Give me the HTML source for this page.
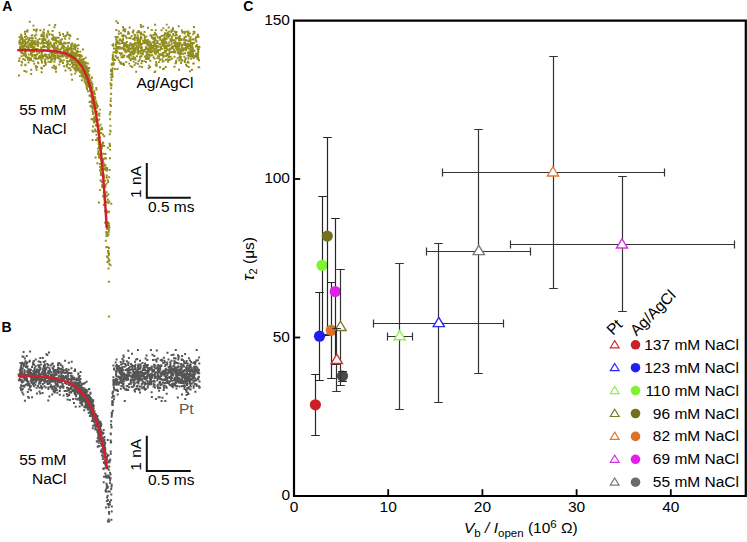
<!DOCTYPE html>
<html><head><meta charset="utf-8"><style>
html,body{margin:0;padding:0;background:#fff;width:747px;height:542px;overflow:hidden}
svg{display:block}
text{font-family:"Liberation Sans",sans-serif}
</style></head><body>
<svg width="747" height="542" viewBox="0 0 747 542">

<text x="2.3" y="10.9" font-size="14" font-weight="bold">A</text>
<text x="1.5" y="332.2" font-size="14" font-weight="bold">B</text>
<text x="243.3" y="11.2" font-size="14" font-weight="bold">C</text>
<path d="M19.1 60.9h0M19.5 37h0M19 75.5h0M19.3 42.5h0M19.8 40.7h0M20 47.1h0M19.6 43.7h0M19.5 41.5h0M19.9 47.9h0M20.4 50.7h0M19.6 58.4h0M20.6 39.1h0M20.3 51.2h0M20.6 46.8h0M21 34.8h0M20.8 38.2h0M21.3 42.7h0M21.7 50h0M21.3 49.8h0M21.4 39.2h0M21.7 43.6h0M21.5 56.3h0M21.5 52.9h0M21.5 65.2h0M21.7 36.2h0M21.7 61.6h0M21.4 45.3h0M21.8 49.1h0M21.5 48.7h0M21.7 36.1h0M22.1 62.6h0M22.6 38.2h0M22.6 40.2h0M22.2 51.6h0M23.1 53.4h0M22.6 42h0M22.7 47.3h0M23.3 48.4h0M23.1 48h0M23.3 45.9h0M23.1 40.3h0M23.5 59.1h0M23.7 41.7h0M23.9 55.2h0M23.4 43.6h0M23.7 55.4h0M23.3 59h0M24.5 48.9h0M24.4 70.9h0M24.6 46.3h0M24.9 60.1h0M24.9 40.2h0M24.6 55h0M25.1 44.4h0M25 37h0M25.3 53.6h0M25.1 53h0M25.3 64.7h0M24.8 44.6h0M24.9 31.8h0M25.5 53h0M25 51h0M25.2 41.5h0M25 48.6h0M25.4 46.2h0M25.4 65.3h0M25.1 34h0M25.9 55.1h0M26.3 39.1h0M25.8 42.4h0M25.8 56.4h0M26.3 36.1h0M26.4 71.7h0M26.2 50.8h0M27 46.5h0M26.7 31.5h0M26.9 43.4h0M27 50h0M27.5 30.3h0M26.6 57.4h0M27.1 47.5h0M27.3 57.3h0M27.4 31.4h0M28 42.3h0M27.7 37.7h0M28 59.4h0M28.3 42.2h0M28.4 40.4h0M28.3 49.2h0M28.5 62.6h0M28.5 45.2h0M28.2 46.7h0M29.1 40.1h0M28.7 54.4h0M28.6 47.9h0M29.2 39.7h0M29.2 39.1h0M29.2 57.8h0M29.1 49.8h0M29.5 45h0M29.2 60.2h0M29.5 44.9h0M29.7 44h0M30 38.1h0M29.8 43.5h0M29.8 58.7h0M30.1 45.3h0M30 50.2h0M29.8 21.7h0M30.4 50.8h0M30.3 45.1h0M30.2 43.7h0M30.8 59.3h0M30.7 46.4h0M31 52.8h0M31.4 42.6h0M31.4 46.1h0M30.9 58.4h0M31.2 69.8h0M30.8 47.1h0M31.1 54.8h0M31.1 38.1h0M31.6 35.6h0M31.2 74h0M31.3 40.8h0M31.7 43.3h0M31.6 54.1h0M31.3 54.6h0M32.1 44.5h0M31.4 60.3h0M32.2 50.2h0M32.1 47h0M32.2 56.3h0M32.5 47.6h0M32.3 46.2h0M32.3 35.3h0M32.2 54.8h0M32.5 40.2h0M32.6 38h0M32.8 52.1h0M33.1 41.9h0M32.7 49.1h0M32.9 50.2h0M33.9 41.8h0M33.5 44h0M33.4 25.6h0M33.5 61.1h0M33.7 46.7h0M33.4 43.6h0M34.4 46.7h0M34.4 55h0M34.4 57.8h0M34.3 46.9h0M34.1 51.4h0M33.8 29.8h0M34.1 49.3h0M34.6 54.9h0M34.3 63.7h0M34.7 58h0M34.5 57.1h0M34.7 41.3h0M34.9 35.7h0M34.4 47.6h0M35.3 41.7h0M35.4 43.4h0M35.7 48.9h0M35.6 44.5h0M35.6 58.8h0M35.8 49.1h0M35.9 57.2h0M35.7 49.8h0M35.8 30.1h0M35.6 38.2h0M36.1 67.6h0M36.2 34.6h0M35.8 65.9h0M36.3 49.3h0M36.9 29.5h0M36.3 31.6h0M36.5 69.8h0M36.5 58.6h0M36.4 55.1h0M37 67h0M36.8 51.8h0M37.3 44.3h0M37.4 58.8h0M37.4 54.1h0M37.6 40.3h0M37.6 48.9h0M37.6 41.9h0M37.8 41.5h0M37.6 43.4h0M37.8 46h0M37.9 44.8h0M38.1 62.5h0M38.3 63.2h0M38.9 56.7h0M38.9 51h0M38.5 42.5h0M39.6 57.8h0M39.4 57.6h0M39.3 57.2h0M39.2 58.3h0M39.4 52h0M39.2 52.7h0M39.6 38.9h0M40.2 50.8h0M40.3 30.2h0M40 56h0M40.5 57.8h0M40.5 43.4h0M40.7 56.3h0M41.2 47.4h0M41.3 49.2h0M41.3 36.1h0M40.9 51.4h0M41.4 35.3h0M41.3 67.8h0M41.2 56.1h0M41.7 72.2h0M41.6 53.9h0M41.3 59.8h0M41.9 61.6h0M41.6 50.9h0M42 62.6h0M42.1 52.2h0M42.1 55.5h0M42 68.5h0M42.3 56.9h0M41.9 34.4h0M42.2 41.5h0M42.1 56.1h0M42.1 55.8h0M42.2 43.1h0M42.4 39.1h0M42.2 39.9h0M42.9 55.8h0M42.9 58.2h0M43.1 36h0M43 47h0M43.2 32.2h0M43.4 49.6h0M43.1 39.6h0M43 41.3h0M43.9 65.9h0M43.2 39.1h0M43.8 36.9h0M43.5 37.5h0M43.9 50.1h0M43.9 32.9h0M43.3 45.1h0M43.7 36.8h0M44.3 38.8h0M44.2 46h0M43.8 56h0M43.9 35.1h0M44.2 47h0M43.8 51h0M43.9 29.7h0M43.9 43.1h0M44.4 39h0M44.4 43.1h0M45 39.9h0M44.9 42.9h0M45.1 62.4h0M44.7 50h0M44.8 54.4h0M45 60.5h0M45.6 56.1h0M45.5 39.4h0M45.7 64.8h0M45.5 46.6h0M45.6 59.1h0M46.4 56.8h0M46.5 42h0M46.5 43.2h0M45.7 63h0M46.6 36.1h0M46.5 54.6h0M46.8 50.5h0M47.1 43.4h0M46.9 41.7h0M46.9 34.4h0M46.9 57h0M47.3 37.2h0M47.2 47.2h0M47.8 58.6h0M48.1 31.3h0M48.3 61.6h0M47.9 45.5h0M48 57.9h0M48.2 46.2h0M48.2 41.8h0M48.4 49.3h0M47.9 48.4h0M48.6 43.5h0M48.2 32.3h0M48.8 40.5h0M48.9 54.7h0M49.1 57.1h0M48.9 50.6h0M49.1 48.7h0M49.2 44.7h0M49.6 34.1h0M49.4 25.1h0M49.2 34.6h0M50.2 62.1h0M49.8 47.3h0M50.1 56.5h0M50.1 58.2h0M50.7 50.8h0M50.3 52.4h0M50.7 42.5h0M50.6 43.1h0M51.1 58.1h0M50.6 44.6h0M51.6 54.5h0M51.1 60.9h0M51.8 52.9h0M51.2 57.8h0M51.5 61.6h0M51.5 60h0M52.4 45.4h0M51.9 38.8h0M52.2 55.9h0M51.8 34.6h0M52.2 52.2h0M52.4 67.6h0M52.5 50.8h0M52.6 59.3h0M52.6 54.1h0M53.1 38.5h0M52.8 51.8h0M52 46.3h0M52.7 35.3h0M53 47.3h0M52.6 30.9h0M52.9 38.6h0M52.9 47.2h0M52.6 67.4h0M53.3 52h0M53 39.7h0M53.4 39.6h0M53.4 55.9h0M53.7 57.9h0M53.7 37.2h0M53.5 37.3h0M54.1 45.3h0M54.4 27.3h0M54 49.9h0M53.9 65.8h0M54 48h0M54.1 55.5h0M54.1 43.8h0M54.7 48.4h0M54.6 48.5h0M54.3 43.1h0M54.3 51.9h0M53.8 50.1h0M54.2 50.3h0M54.5 37.6h0M54.6 68.1h0M55 56.9h0M54.8 53.6h0M54.4 61.7h0M54.6 40.2h0M54.8 46.4h0M55 53.5h0M56.1 68.1h0M55 58.7h0M55.2 24.9h0M55.8 66.8h0M54.6 47.6h0M55.5 51.1h0M55.6 50.6h0M55.6 56h0M55.1 59.6h0M55.8 37.6h0M55.6 50.8h0M55.4 50.1h0M55.5 69h0M55.6 38.4h0M56.2 43.5h0M55.9 48h0M56.1 40.1h0M56 71.8h0M55.7 57.7h0M56.4 41.6h0M56.8 49.2h0M56.6 52.9h0M57.2 47.8h0M57.2 50.6h0M57.7 37.7h0M57.5 54.1h0M57.9 57.8h0M57.7 41.1h0M58.1 41.5h0M57.7 46h0M57.6 48.4h0M58.4 56.4h0M57.9 55.5h0M57.8 37.8h0M58.7 58.6h0M58.4 56.7h0M58.7 52.1h0M59.4 44.1h0M58.4 49.5h0M58.7 37.6h0M59.7 53h0M59.2 42.6h0M59.1 56.4h0M59.3 64.4h0M59.8 61.4h0M59.8 53.4h0M59.8 49.8h0M60.1 35h0M59.6 32.7h0M60 56.3h0M60 61.8h0M60.6 41.3h0M60.6 59.3h0M60.3 40.3h0M60.9 49.2h0M61.3 56.4h0M61 42.7h0M61 60.9h0M61.8 61.3h0M61.6 55.1h0M61.2 44.2h0M61.7 53.2h0M61.6 47.4h0M62.6 44.8h0M62 54h0M62.8 56.4h0M62.1 39.3h0M63.1 62.6h0M62.7 45.7h0M63.6 46.1h0M62.9 62.9h0M63.9 50.4h0M63.3 54.1h0M63.1 34h0M63.2 54.6h0M63.2 48.1h0M63.4 43.5h0M64.3 47.8h0M63.8 36.1h0M63.7 50.2h0M63.8 60.1h0M63.8 51.5h0M64.1 66.2h0M64 51.2h0M64.3 42.7h0M64.8 42.6h0M64.6 36.6h0M64.7 50.8h0M64.4 46.6h0M64.4 50.9h0M65.8 50.9h0M65.2 38.8h0M65.2 52.5h0M65.3 52.8h0M65.6 55.7h0M64.9 55.4h0M65.2 50.8h0M66 52.8h0M65.5 70.4h0M65.7 50h0M65.6 53.2h0M65.4 43.5h0M66.4 56.7h0M65.8 52.1h0M66.3 57.5h0M65.8 53h0M67.1 55.1h0M66 35.7h0M66.9 66.4h0M66.7 47.9h0M67.2 58.1h0M66.8 49.5h0M67.1 55.5h0M66.7 54.2h0M66.7 65h0M67.9 51.2h0M67.5 32.6h0M67.5 43.2h0M66.7 66.5h0M67.2 60.9h0M67.4 34h0M67.3 62.2h0M68.2 49h0M68.4 34.8h0M67.7 49.7h0M67.6 52h0M68.1 48.5h0M68 46.1h0M67.8 64h0M68.5 56.2h0M68.7 56.6h0M68.7 68.3h0M69 49.8h0M68.2 52.6h0M69.5 56.4h0M69 42.8h0M68.9 56.8h0M68.9 48.6h0M69.3 38.5h0M69.3 61.3h0M70 56.6h0M69.8 56.4h0M70.2 54.3h0M69.7 68.1h0M69.8 35.2h0M70.3 36h0M69.7 47.9h0M70.1 60.3h0M70.6 70.2h0M70.4 52.9h0M70.9 57.6h0M70.1 64.6h0M71.3 46.3h0M70.6 59.4h0M71.1 44.8h0M71.5 47.5h0M70.2 56.4h0M71.1 52.4h0M71.6 51.1h0M70.9 54.2h0M70.9 49.5h0M72 44.4h0M71.7 56.4h0M71.6 52.4h0M72.2 66.7h0M71.3 60.7h0M72.2 53.3h0M72 58.7h0M71.5 44.3h0M71.9 63.2h0M71.5 74.5h0M72.2 55h0M72.1 60.2h0M72.1 79.7h0M72.7 51.3h0M71.9 61.7h0M72.5 59.8h0M72.4 43.5h0M72.8 55.2h0M72.6 56.6h0M71.8 48.8h0M73 53h0M73.3 62.6h0M73.8 49.1h0M72.9 65h0M73.4 64.7h0M74.1 58.8h0M73.4 56.3h0M74.4 60.4h0M74.1 65.3h0M74.4 61.4h0M74 52.8h0M74.5 45.4h0M73.8 67.8h0M75.4 68.2h0M74.9 57.1h0M75.2 70.1h0M74.3 54.5h0M75.1 44.4h0M75.1 73.6h0M74.7 55.2h0M73.7 46.1h0M76.5 58.6h0M75.4 63.2h0M74.2 47.7h0M74.7 68.7h0M75.7 57h0M75.1 60.6h0M75 58.3h0M75.1 48.9h0M76.1 66.1h0M76.3 71.5h0M76.3 50.8h0M77.3 69.9h0M76.6 60.4h0M75.5 58.3h0M76.4 65.9h0M75.6 47.2h0M76.1 64.9h0M76.4 67.5h0M76.6 54.8h0M76.9 61.9h0M76.7 52.6h0M75.8 53.5h0M75.8 64.7h0M76.7 45.8h0M76.8 62h0M77.2 51h0M77.3 52h0M77.8 48.6h0M77.1 65.8h0M76.6 55.2h0M77.6 62.6h0M77.5 55.6h0M77.6 38.9h0M77.6 67.1h0M77.6 54.9h0M78.3 55.4h0M78.4 56h0M78.3 54.8h0M77.7 69.1h0M79.3 59h0M78.1 63.7h0M78.5 45.3h0M79 62.3h0M79.5 64.9h0M79.9 57h0M77.6 67.8h0M78.9 62.4h0M78.1 52h0M79.8 62.8h0M79.5 55.9h0M80.6 55h0M79 63h0M79.5 62.1h0M80.3 70.5h0M79.1 70.4h0M79 60.7h0M78.3 68.7h0M78.7 54.6h0M79.9 76.1h0M79.6 70.8h0M80 72h0M79.4 65.7h0M79.8 61.7h0M81.2 61.7h0M79.9 68.2h0M80.2 60.8h0M80.3 59.5h0M81.9 56.3h0M80.2 63.7h0M80.5 59.9h0M82 76.5h0M81.5 56.5h0M79.7 68.2h0M83 66.4h0M80.2 62.4h0M81.8 60.6h0M80.5 62.1h0M80.4 60.5h0M80.3 51.6h0M80.7 61.3h0M82.6 70.5h0M81.3 73.7h0M82.6 59.2h0M80.6 54.9h0M83.5 59.1h0M81.2 65.5h0M81.8 72.4h0M81.9 80.3h0M82 69.9h0M82.3 72h0M82.3 63.4h0M82.1 75.7h0M83 49.5h0M81.5 59.9h0M82.1 72.4h0M82.5 67.8h0M84 65.8h0M81.6 73.8h0M82.2 61.5h0M83.2 72.9h0M82.2 71.4h0M82 65h0M83 64.1h0M83.6 62h0M83.2 74.1h0M83.5 74.5h0M83.2 63.3h0M82.6 72.8h0M82.6 76.2h0M83.1 67.2h0M83.5 68.4h0M83.8 72h0M83.2 59.7h0M84.2 64.1h0M83.9 58.9h0M85.2 72.5h0M84.3 77.8h0M83.9 63.1h0M84.4 71.5h0M84.7 68.9h0M84 71.8h0M85 63.6h0M86.8 68.7h0M84.9 65.5h0M86.5 63.2h0M85.3 76.2h0M84.7 71.3h0M85.8 66.2h0M82.8 72.7h0M86.4 78.3h0M85.4 69.2h0M84.9 66h0M83.4 77.8h0M84.1 73.9h0M86.7 68.6h0M87.9 63.5h0M85.8 76.2h0M86.3 66h0M86.7 77.2h0M84.5 75.5h0M85.3 66.7h0M88 80.2h0M85.7 82.2h0M85 77.2h0M86.4 75.7h0M85.3 82.7h0M86.9 74.6h0M86.7 69h0M84.7 79.6h0M87.9 91.2h0M88.4 76.6h0M84.7 76.1h0M86.2 79.1h0M88.3 74.3h0M85.7 57.6h0M87.1 81.1h0M87.8 72.5h0M85 71h0M86.1 76.7h0M84.6 81.3h0M86.8 67.3h0M87.6 74.7h0M85.4 72.8h0M86.7 87.2h0M86 83.7h0M88.4 75.7h0M87.3 70.8h0M86.7 81.9h0M89.2 67.9h0M90 79.8h0M86.6 70.7h0M89.1 76.7h0M85.4 68h0M87.9 79.4h0M88.7 71.1h0M88.1 75.9h0M88.7 75h0M85 77.8h0M86.4 68.1h0M87.5 82.6h0M87.3 78.1h0M84.9 79.6h0M87.2 75.5h0M87.1 76.9h0M86.5 83.6h0M85.3 62.2h0M88.7 68.4h0M88.4 68h0M85.8 73.9h0M86.6 72.2h0M86.6 83h0M87.6 73.6h0M86.5 83.2h0M87 74.6h0M87.5 80.4h0M87.4 79.3h0M88.8 75h0M88.4 81.9h0M86.5 85.7h0M89.3 79.3h0M87.7 78.2h0M87.6 70.5h0M87.8 81.8h0M89.5 75.1h0M87.1 77.8h0M88 80.7h0M88.9 78h0M89.1 80.1h0M88.8 83.6h0M88.3 78.5h0M90.1 82.9h0M88.8 79.2h0M88.5 80.9h0M88.8 86.8h0M88.9 85.1h0M90 89.8h0M90 83.2h0M88.6 82.6h0M89.8 82.4h0M87 89h0M88.4 78.7h0M88.7 85.7h0M87.6 84.8h0M91.8 77.5h0M91.7 77.9h0M88.9 83.1h0M89.8 84h0M90.3 88.5h0M90.3 85.6h0M90.3 80h0M88.6 81.2h0M87.1 81.2h0M88.6 81.5h0M91.9 84.9h0M91.2 89h0M89.6 83.9h0M91.6 83.6h0M91.8 87.1h0M88.6 80.7h0M92.6 86.9h0M90.5 88.6h0M91.4 81.7h0M90 87.8h0M92.4 88.9h0M89.8 82.6h0M92 88.8h0M89.1 86h0M91.1 83.9h0M91.4 83.9h0M92.9 96.1h0M92.4 84.3h0M91.2 92h0M91.5 97.1h0M90.7 87.6h0M90 95.2h0M92.6 92.2h0M92.8 92.8h0M91.4 91.9h0M90.5 90.9h0M90.1 90.7h0M90.7 86.1h0M90.4 91.3h0M96.4 89.6h0M89.5 95.6h0M93.6 93.3h0M92.1 92.8h0M93.3 91.7h0M91.8 89.4h0M94.2 91.9h0M92.5 95.6h0M93.2 97.4h0M92.6 92h0M94.7 94h0M96.3 88h0M92.9 98.4h0M94.1 91.3h0M92.3 99h0M92.1 96.8h0M92.6 101.1h0M91.3 101.9h0M92.1 89.1h0M93.3 103.9h0M92.4 91.6h0M94.9 96.8h0M93.3 100.5h0M93.4 99h0M92 103.3h0M91.7 97h0M91.8 101.9h0M92.9 100.1h0M91.9 100.8h0M92.7 102.4h0M89.6 102h0M94 101.8h0M95.3 98.4h0M90.4 106.1h0M95.2 104.7h0M94 101.5h0M92.6 102.6h0M94.7 99.3h0M91.8 99.8h0M91.5 101.3h0M93.6 104.8h0M94.8 109.1h0M92.9 100.2h0M96 102.6h0M90.4 96.3h0M93.3 108.1h0M93.6 101h0M97.1 105.2h0M97.2 105.8h0M96.2 104.7h0M94.8 106.7h0M96.8 103.9h0M91.3 105.8h0M93.9 105.4h0M96.1 101.5h0M92.6 103.1h0M93.9 102.7h0M92.7 101.1h0M96.8 108h0M92.1 106.4h0M97.1 107.3h0M92.5 106.4h0M97 111.7h0M96.1 111.3h0M97.9 106.1h0M95.7 119.8h0M91.6 107.5h0M92.8 108.6h0M94.4 116.7h0M92.5 110.7h0M96.9 114.4h0M97 114.6h0M99.9 109.6h0M95.3 118.5h0M92.4 118.9h0M99.4 113.5h0M95.5 112.3h0M96 124.9h0M98.1 114.3h0M93 112.5h0M93.1 113.9h0M97.9 114.1h0M93.6 118.8h0M91.5 119.2h0M99.2 119.5h0M95.6 118.8h0M95.1 121.4h0M99.3 115.8h0M94.2 121.8h0M94 118.7h0M93.9 120.6h0M94.2 122.6h0M96.3 119.3h0M97.9 120.2h0M95.8 125.5h0M93.8 121.4h0M93.2 119.6h0M97.1 126h0M100.7 124.6h0M96.9 122h0M95.3 131.2h0M97.9 124.5h0M93 126.4h0M96 131.2h0M98 125.4h0M101.4 129.3h0M99.2 126.3h0M101.2 133h0M100.2 129.5h0M93.1 131.7h0M95.1 129.4h0M102.2 129.3h0M101.7 127.7h0M99.6 133.4h0M96.5 134.8h0M99.2 131.3h0M92.6 140h0M100 133.1h0M103 134.4h0M98.2 132.1h0M92.4 130.6h0M98.1 132.1h0M98 137.9h0M98.8 142.8h0M101 133h0M97.4 138.2h0M98.4 138.8h0M99.9 137.5h0M104.3 136.2h0M99.7 141.1h0M102.9 142.4h0M100.4 147.3h0M96 139.9h0M98.2 140.3h0M98.7 144h0M101.1 145.6h0M99.5 138.3h0M98.6 141h0M103.3 146h0M99.7 144.8h0M107.8 147.8h0M103.2 143h0M99.6 146.9h0M102.3 146.1h0M102.6 144.8h0M98.1 148.6h0M101 144.4h0M100.2 149.9h0M98.9 147.2h0M101.5 148.3h0M99.6 141.5h0M101.9 147.6h0M101.8 147.5h0M101.3 148.8h0M100.8 147.8h0M104.2 146h0M100.4 148.4h0M100.9 149.3h0M99 147.1h0M98.1 154h0M99.2 154.7h0M101.2 153h0M99.3 145.2h0M98.8 153.8h0M95.6 157.4h0M100.9 145.4h0M98.3 151.2h0M106 158.5h0M103.5 153.8h0M105.5 153.9h0M101.4 154.8h0M98.3 153.3h0M104.8 158.3h0M103.1 162h0M103.9 158.7h0M99 156.6h0M99.5 157.9h0M99.2 156.9h0M102.8 160.8h0M97.4 163.3h0M101 159.1h0M102.9 162.6h0M101.2 159.1h0M103.1 161.3h0M103 160.4h0M99.9 156.5h0M101.3 161.3h0M102.8 159.4h0M99.1 157h0M101.1 168.9h0M102.1 164.2h0M104.5 169.4h0M106.8 168.1h0M100 166.8h0M101 168.8h0M101.8 173.9h0M105.5 167.5h0M106.4 169.3h0M100.1 164h0M104.3 168.6h0M105.4 165.3h0M103.5 166.1h0M103.6 163.2h0M100.7 170.8h0M102.9 166h0M106.2 169.9h0M107.3 168.1h0M107 169.4h0M103 169h0M101.8 168.4h0M102.4 174.3h0M106.9 170.6h0M104.4 164.7h0M106.3 167.9h0M100.1 170h0M103.6 174.3h0M106.6 177.7h0M103.8 175.7h0M106.7 175.8h0M100.8 174.7h0M102.3 174.6h0M106.8 175.4h0M100.7 172.3h0M100.9 173.4h0M109.1 177.2h0M100.8 180.1h0M105 180.6h0M100.5 180.8h0M101.6 175.3h0M103.9 177.5h0M102.2 182.3h0M102 182h0M105.5 185.1h0M108.2 181.9h0M106.6 183.6h0M102.1 185.3h0M102.3 187.2h0M102.7 185.4h0M107.7 180.2h0M106.6 192.1h0M106.4 192.3h0M103 185.5h0M105.4 186.8h0M108.4 194.4h0M103.4 196.4h0M103.7 192.2h0M100.1 190.1h0M105.3 194.1h0M106.2 196.5h0M104.2 195h0M108.2 194.6h0M103.1 196.3h0M105.4 194.4h0M106.6 196h0M105 197.8h0M108.4 202.9h0M106.7 201.8h0M104.5 199.3h0M105.1 197h0M98.9 202.5h0M105.5 202.7h0M107.8 199.5h0M105 196.9h0M105.3 196.6h0M111.3 203.8h0M103.8 205h0M105.3 205.2h0M104.6 203.4h0M104.8 202.8h0M105 211.2h0M109.2 211.7h0M107.1 211.1h0M106.2 210.1h0M107.6 212.5h0M106.3 217.9h0M106.4 222h0M107.3 223.9h0M108.2 222.4h0M106.5 222.6h0M105.1 222.7h0M108.8 226.6h0M108.6 231.9h0M109 225.7h0M107.2 225.5h0M107.4 229.1h0M108.3 228.7h0M106.6 225.9h0M107.2 229.1h0M106.6 232.8h0M106.3 236.1h0M105.8 240.8h0M106.2 231.9h0M107.8 235.8h0M106.6 234.1h0M106.3 247.3h0M107.6 247h0M109 248h0M108 251h0M108.4 250.8h0M109.1 253.5h0M106.9 256.4h0M107.6 257.2h0M109.4 260.2h0M108.7 261.2h0M107.5 262h0M108.8 255.2h0M110.5 265.2h0M108.5 234.5h0M109 230.1h0M109.5 227.6h0M108.9 223.6h0M109.3 201.4h0M109.6 169.9h0M110 158.2h0M110.1 149.6h0M110.1 146.1h0M109.8 144.3h0M109.9 145.6h0M109.6 143.7h0M109.7 134.2h0M110.6 131.5h0M110.2 130.6h0M110.4 125.8h0M110.1 119.2h0M110.4 111.9h0M109.8 114.2h0M111 106h0M110.8 98.6h0M110.3 104.7h0M110.7 100.9h0M111.1 93.7h0M111.1 94.1h0M110.9 85.4h0M110.6 83.5h0M111.2 88.2h0M111.1 77.6h0M111.6 84.8h0M110.9 74.4h0M111.1 71.1h0M111.6 80h0M111.7 70.6h0M112.3 74h0M112.1 72.3h0M112.4 76h0M112.2 65.1h0M111 69.9h0M111.5 64.5h0M112.3 63.2h0M112.2 77h0M112.2 71.6h0M112.5 76.7h0M112.5 45h0M113.4 60.6h0M112.7 59.3h0M112.6 58.5h0M112.3 69.9h0M112.6 58.7h0M112.5 68.1h0M113.5 59.6h0M112.9 56.7h0M113.2 45.8h0M113.3 60.5h0M113.4 52.5h0M112.8 55h0M114 48.4h0M113.1 58.1h0M113.1 57.2h0M113.7 58.6h0M113.3 44.3h0M113.7 64.6h0M113.9 63.1h0M114.9 69h0M115.2 60h0M114.9 48.6h0M115.1 51.9h0M116 44.8h0M115.6 36.9h0M116 48.5h0M115.8 45.8h0M115.6 55.7h0M116.3 30h0M116 50.4h0M116.2 39.2h0M116.2 42.5h0M116.4 53.1h0M116.4 21.2h0M116.8 36.9h0M116.7 40.5h0M116.4 57.1h0M117 46.9h0M117.1 43.6h0M117.2 58.1h0M117.2 51.7h0M117.4 51.1h0M117.5 68.9h0M117.8 41.8h0M117.8 37.2h0M117.9 22.9h0M118 57.6h0M117.8 42.3h0M118.2 47.6h0M118.2 47.1h0M118.1 48.2h0M118.8 31.3h0M118.1 48.7h0M118.7 60.1h0M118.9 48.2h0M118.8 47.3h0M119 47h0M118.7 43.5h0M118.8 33.8h0M118.6 47.3h0M119 48.3h0M118.8 42.6h0M119.7 48.5h0M119.7 39.9h0M120 39.3h0M119.9 43.7h0M119.6 52.9h0M119.7 61.9h0M120.3 40.2h0M120.6 47.5h0M120.9 33.3h0M120.8 54.8h0M120.7 54h0M121 62.7h0M120.6 63.6h0M121.5 57.3h0M121.5 48.4h0M121.7 40.8h0M121.5 40.5h0M122.1 41.6h0M122.1 64h0M121.7 57.3h0M121.9 53.3h0M122 42.9h0M122.3 35.9h0M122.7 48h0M122.1 41.7h0M123.1 27h0M123.2 30.6h0M123.4 42.9h0M123.2 55.5h0M122.9 40.5h0M123.8 35.3h0M123.1 38.8h0M123.4 48.3h0M123.3 36.2h0M123.9 49.7h0M123.6 63.5h0M123 35.2h0M123.9 44.5h0M123.5 57.3h0M124.4 42.9h0M124 65h0M123.8 45.9h0M124.4 48.1h0M123.8 28.9h0M124.3 55.5h0M124.5 43.2h0M125 31.3h0M125 49.7h0M125.7 52.2h0M125.3 51.8h0M124.9 49.8h0M125.4 46.1h0M125.3 29.5h0M125.1 45.3h0M125.5 43.3h0M125.9 44.5h0M126.1 46.1h0M125.7 36.3h0M125.8 45.7h0M126.2 62.1h0M126.8 45h0M125.5 51.6h0M127.2 50.2h0M126.9 47.6h0M126.8 41.9h0M127.2 56.8h0M126.6 37.9h0M127.7 46.6h0M127.4 51.3h0M127 46.7h0M127.6 56.3h0M128.2 47.2h0M127.6 51.3h0M128 33.8h0M128.4 45.1h0M128.4 51.3h0M128.4 49.1h0M128.3 31.9h0M129.1 55h0M129.1 47.7h0M129 49.1h0M129.1 56.5h0M129.1 33.5h0M129.2 63.6h0M129.4 58.2h0M129.7 48.9h0M129.1 51.3h0M129.4 49.4h0M129.3 37.9h0M129.7 27.5h0M130.4 45h0M130.3 45.5h0M130.7 53.2h0M130.3 53.8h0M130.3 43.1h0M130.6 60.3h0M130.5 49h0M130.5 52.1h0M130.6 38.2h0M131.5 58.9h0M131 55.6h0M130.7 66h0M130.8 48.6h0M131.3 52.6h0M131.7 44.1h0M132 53h0M131.6 35.9h0M131.9 58.4h0M131.9 47.4h0M132.2 67h0M132 51.8h0M131.9 51.7h0M132.8 54.1h0M132.5 45.2h0M132.4 51.5h0M132.9 46.5h0M132.5 59.1h0M132.9 32.6h0M133 44.1h0M132.8 48.5h0M132.8 32.1h0M132.8 52.5h0M133.1 39h0M133.4 56.5h0M133.4 49.9h0M133.6 61.6h0M133.4 50.5h0M133.6 50.8h0M133.4 30.5h0M134.4 53.6h0M133.7 49h0M134.5 37.9h0M133.8 45.8h0M133.7 50.5h0M133.6 58.8h0M134.6 34.8h0M134.7 43.8h0M134.4 48.8h0M135 57.8h0M134.8 44.6h0M134.7 51.7h0M135 35.5h0M134.7 39.9h0M134.5 65.1h0M134.9 37.7h0M135.2 47.6h0M135.2 48.8h0M135.6 50.2h0M135.2 42.7h0M135.5 50.1h0M135.5 51.6h0M135.7 63.3h0M135.5 59.5h0M136.2 71.7h0M136 37.7h0M136.6 47.5h0M136.5 45.1h0M136.9 56.2h0M137.2 47.8h0M137.4 40.4h0M137.3 46.5h0M137.6 37.1h0M137.6 49.1h0M137.6 35.1h0M137.2 32.5h0M137.7 53h0M137.2 42.9h0M138 51.4h0M137.9 63.7h0M137.7 46.1h0M137.4 39.1h0M138.1 49.4h0M138 38.5h0M138.2 37.4h0M138 42.1h0M138.6 51h0M138.2 47.6h0M138.5 40h0M138.4 53.7h0M137.9 47.7h0M138.1 39.2h0M138.5 30.9h0M139 31.8h0M138.8 44h0M138.6 61.1h0M139.6 45.6h0M139.2 32.4h0M139.3 51.8h0M139.7 66.5h0M139.7 59.6h0M139.5 42.5h0M140 41.7h0M140.4 32.4h0M140.1 56.6h0M140.4 57.6h0M140 40.2h0M140.2 47.6h0M140.3 51.1h0M140.8 53.6h0M140.8 24.9h0M141 32.7h0M141 37h0M140.7 43.6h0M141.1 50.7h0M141.1 26.9h0M140.6 38.4h0M141.6 63.3h0M141.3 46.1h0M141.6 49.5h0M141.5 38.5h0M141.1 44.1h0M141.1 53.2h0M140.9 34.5h0M140.9 47.9h0M141.9 47.6h0M142.1 66.9h0M141.5 55.9h0M142 60.9h0M141.8 43.9h0M141.9 53.2h0M141.8 34.1h0M143 40.8h0M142.6 49.9h0M143.2 26.4h0M142.4 53.2h0M142.7 54.2h0M142.4 50.2h0M142.8 53.7h0M142.9 34.6h0M143.4 52.1h0M143.3 43h0M144.8 36.7h0M144.2 35.3h0M144.2 50.8h0M144.5 32.1h0M144.3 61.1h0M144.6 50.6h0M144.9 39.8h0M144.9 40.1h0M144.8 49.8h0M144.5 40.7h0M144.7 38h0M145 56.5h0M145.1 41.3h0M145.1 43.2h0M145.4 42.3h0M146 62h0M146 47.8h0M145.8 47.2h0M146.1 40.4h0M146 58.2h0M146 59h0M146.5 36.6h0M146.5 42.5h0M146.4 55.5h0M146.6 52.4h0M146.4 52h0M146.6 48.9h0M146.5 48.5h0M147.1 40.7h0M147.2 58.8h0M147.2 53.4h0M147 54.1h0M147.4 52.1h0M147.3 56.9h0M147.2 44.2h0M147.7 54.4h0M147.7 49.7h0M147.6 43.5h0M148.1 42h0M147.8 49.1h0M147.8 45.5h0M148.6 50.6h0M147.8 40h0M148.5 59h0M148.6 68.3h0M148 27.8h0M148.5 48.3h0M148.6 55.2h0M148.7 42.2h0M149 65.6h0M149.1 41.9h0M148.8 44.7h0M149.2 57.4h0M149.2 42.5h0M149 51.5h0M149.3 49.4h0M149.1 45h0M149.4 41.5h0M149.6 42.4h0M149.1 48.1h0M149.4 54.9h0M149.8 46h0M149.8 52.5h0M149.2 44.6h0M150.4 44.7h0M150.3 60.7h0M150.2 42.5h0M150.1 52.3h0M150.4 51h0M150.1 66.9h0M150.4 35.4h0M150.7 45.6h0M150.8 55.4h0M150.9 46.9h0M151.1 52h0M151.5 35.2h0M151.4 48.5h0M151.2 43.9h0M151.7 52.3h0M150.8 52.4h0M151.8 37h0M151.9 37.7h0M151.8 29.9h0M151.2 49.1h0M152.1 47.1h0M152.3 46h0M152.7 42.2h0M152.5 50.4h0M152.4 55.1h0M152.7 46.2h0M153 47.7h0M153.3 48h0M153.5 57.2h0M153.4 42.2h0M153.8 35h0M153.1 38.7h0M153.6 50.7h0M153.7 37.6h0M154.3 42.9h0M154.1 41.6h0M153.4 46.6h0M154.3 40.8h0M154.1 44.9h0M155 37.8h0M154.6 58.5h0M154.6 72.1h0M154.4 51.4h0M154.5 49.9h0M154.7 44h0M154.9 53.1h0M155 34.3h0M154.9 32.7h0M155.1 39.6h0M155.3 39.2h0M155.3 71.4h0M155.3 44.7h0M155.1 24.8h0M155.5 46.3h0M155.8 30.1h0M155.7 54.3h0M155.8 43.5h0M155.7 52.3h0M155.5 48.7h0M156 62.2h0M155.4 48.6h0M155.8 65.1h0M156.3 47.9h0M156.6 35.7h0M156.2 34.2h0M156.7 66.1h0M156.6 40.7h0M156.5 52.3h0M156.4 52.5h0M156.6 50.6h0M156.4 40.7h0M156.9 46.3h0M157.3 46h0M156.7 64h0M157.3 58.1h0M157.8 41.4h0M157.2 51.6h0M157.4 43h0M157.3 51.9h0M157.4 46.7h0M157.4 50.2h0M157.9 37.4h0M157.8 51.3h0M157.7 50.8h0M157.9 46.7h0M158 56.1h0M158.5 46.8h0M158 52.6h0M158.9 62.1h0M158.6 49.7h0M159.2 56.4h0M159.3 58.6h0M159.3 44.2h0M159.6 37.3h0M159.2 54.2h0M160 67.3h0M160 37.5h0M160.1 38.2h0M159.8 50.2h0M160.1 39.7h0M160.4 44.1h0M160.1 59.9h0M160.6 46.6h0M161 47.1h0M160.9 49h0M161.3 55h0M161 54.3h0M161.7 54.9h0M161.5 30.3h0M161.5 36h0M161.8 41h0M162.3 59.3h0M161.7 42.3h0M162.4 39.4h0M163.1 41.5h0M162.5 45.5h0M162.8 69.1h0M162.8 52.9h0M162.6 48.6h0M163 39.8h0M163.3 28.1h0M162.5 41h0M162.6 54.1h0M162.8 43.9h0M163.2 35.6h0M162.8 61.4h0M163.4 43.9h0M163.2 56.3h0M163.7 45.6h0M163.9 43h0M163.6 55.1h0M163.6 61.1h0M163.5 40.8h0M163.7 41.9h0M163.9 52.6h0M164 68.6h0M164.1 46.6h0M164.5 39.7h0M163.6 56.9h0M164.4 42.9h0M164.7 45.1h0M164.7 40.8h0M164.4 35h0M164.2 38.4h0M164.8 50.4h0M164.7 37.4h0M165 33.1h0M165 48h0M165 52.6h0M165.4 52.2h0M165.8 59.7h0M165.7 46.6h0M165.9 56h0M165.5 46.5h0M165.6 46h0M166.1 47.2h0M165.8 67h0M165.8 41.7h0M165.8 51.6h0M166.2 42.5h0M166.6 43.6h0M166.1 50.8h0M166.8 48.6h0M166.9 53.9h0M166.6 36.4h0M166.4 39h0M166.8 46.5h0M166.6 34.3h0M166.3 30.2h0M166.7 24.6h0M167.3 54.7h0M167.6 59.5h0M167.4 49.8h0M167.2 55.3h0M167.5 32.8h0M167.8 35.2h0M167.9 45.8h0M167.9 33.6h0M167.4 54.9h0M168.4 46.1h0M168.1 61.7h0M168 37.4h0M168.5 57.2h0M168.7 27.4h0M168.6 34.1h0M168.9 54.6h0M168.8 42.8h0M169.2 53.2h0M168.9 31.6h0M169.2 56.8h0M169 60h0M168.6 45.2h0M169.1 45.2h0M169.8 45h0M169.3 50.7h0M169.1 36.3h0M169.6 48.7h0M170.6 49h0M170.6 52.3h0M170 34.8h0M170.4 39.3h0M170.5 41h0M170.3 59.5h0M170.6 51.8h0M170.7 56.7h0M170.7 40.3h0M171.3 47.8h0M171.4 41.6h0M171.3 30.5h0M171.6 36.7h0M171.3 31.9h0M172.1 47.3h0M171.8 43.8h0M172.2 40.5h0M172.2 48.3h0M172 40.1h0M171.8 38.5h0M172.4 52.2h0M172.2 58.6h0M172.3 46.1h0M172.8 29.2h0M172.8 30.7h0M173 47.3h0M173.3 35.5h0M173 28.2h0M172.9 48.2h0M173.2 33.9h0M173 40.3h0M173.2 46.1h0M172.8 46.8h0M173.5 51.6h0M174.2 40.3h0M174.1 51.9h0M174.1 49.8h0M174.5 56.7h0M174 42.7h0M174.3 49.6h0M174.7 52.6h0M174.9 31.8h0M174.8 45.9h0M174.5 66.7h0M175.1 43.9h0M175.2 42.4h0M174.9 51.5h0M175.4 52h0M175.5 63.3h0M175.5 41.2h0M175.9 33.3h0M175.6 45.2h0M176 47.4h0M175.5 35.5h0M175.9 47.9h0M176.2 60.8h0M175.8 46.6h0M175.8 38h0M176.1 38.7h0M176.4 38.3h0M176.5 42.9h0M176 62.4h0M176.7 47.1h0M176.6 32h0M176.8 45.7h0M176.6 45.5h0M176.7 35.3h0M177.1 49.8h0M177.4 44.1h0M177.1 45.8h0M177.4 45.6h0M177.4 43.7h0M177.7 58.3h0M177.2 50.1h0M178 53.2h0M177.9 49.8h0M178.1 48.5h0M178.3 37.9h0M178.3 43.2h0M178.7 26.3h0M178.2 52h0M178.4 44.3h0M178.8 47.5h0M178.8 37.2h0M179.3 40.5h0M179.3 60.4h0M179 69.8h0M179 53.6h0M179 39.7h0M179.6 53.1h0M179.6 56.7h0M179.5 42.8h0M179.3 45.9h0M179.4 49.1h0M179.8 49.6h0M179.9 35.9h0M180.7 52.4h0M179.7 44.4h0M180.2 58.7h0M180.1 38.3h0M180 54.4h0M180 50.3h0M180.5 53.1h0M180.5 43.1h0M180.4 51.9h0M180.8 53.4h0M180.6 40h0M180.9 52.4h0M180.7 58.5h0M180.6 43.4h0M181.1 62.9h0M181.7 50.5h0M180.9 56.7h0M181.4 53.7h0M181.7 48.4h0M181.6 60.6h0M181.9 30.4h0M182 45.2h0M181.6 40h0M181.7 39.1h0M181.8 46.8h0M182.4 60.1h0M182.3 48.7h0M182.4 32.5h0M182.3 60.8h0M183 53.7h0M183.1 50.8h0M183.3 44.6h0M183.7 48.5h0M184.3 39.9h0M184.3 49.7h0M184.5 48.4h0M184 39.4h0M184.5 39.6h0M184.1 32.1h0M184.2 56.6h0M184.3 48.2h0M184.5 45.1h0M184.5 37.5h0M184.2 42.9h0M184.9 43.9h0M184.8 43.1h0M184.7 33.6h0M185.2 43.3h0M185 53.2h0M185.1 43h0M185 60.5h0M185.4 49.3h0M185.2 40.8h0M184.9 62h0M186.1 47h0M185.8 48.6h0M185.6 40.4h0M185.4 37.1h0M185.5 58.3h0M186.2 31.8h0M185.9 36.4h0M186 45.1h0M185.7 59h0M186 64.6h0M186.4 44h0M186.3 50.3h0M186.5 40.3h0M186.8 65.9h0M187.1 47.4h0M187 48h0M187.6 55.6h0M187.9 52.8h0M187.9 61.7h0M187.6 62.5h0M187.8 45.3h0M188 34.4h0M187.9 47.8h0M187.9 46.5h0M188.1 46.1h0M188.3 58.2h0M188.1 34.9h0M188.5 58.5h0M188.7 62.6h0M188.5 41.2h0M188.4 44h0M188.2 33h0M188.2 41.3h0M188.6 54.8h0M188.4 31.5h0M188.8 67h0M189.6 39.3h0M188.7 36.2h0M190 52.7h0M189.3 46h0M189.8 54.3h0M189.3 49.1h0M189.5 56h0M189.5 51.5h0M189.7 44.9h0M189.9 46.3h0M189.8 33.5h0M189.9 52.5h0M189.9 52.6h0M190.4 41.6h0M190.5 39.8h0M190.8 56.5h0M190.9 50.7h0M191.2 54.8h0M190.6 37.2h0M190.7 53.6h0M191.2 58.7h0M190.1 71.2h0M190.9 43.1h0M190.6 47.8h0M190.3 44.7h0M191.1 55.4h0M191.6 49.6h0M192.1 56h0M192.5 44.6h0M191.6 51.6h0M192.6 39.4h0M192.2 48.6h0M191.9 69.7h0M191.9 45.9h0M192.9 48.5h0M192.5 47.4h0M192 56.1h0M193.1 63.6h0M192.5 49.1h0M193 51.4h0M192.5 42.9h0M193.2 34.3h0M193.2 54.5h0M192.5 53h0M193.4 56h0M193.6 31.6h0M193.3 54.2h0M193.3 50.5h0M193.4 39.3h0M193.3 55.5h0M193.8 63.4h0M193 56.7h0M194.3 56h0M194 27h0M193.9 43h0M193.7 58h0M194.4 31.9h0M194.7 55.9h0M194.4 32.8h0M194.2 51.1h0M194.5 50.8h0M195.6 40.5h0M195.7 46.6h0M195.8 56.7h0M196 54.6h0M195.7 38.4h0M196.1 53.8h0M195.9 37.2h0M196.2 46h0M196.9 45h0M196.4 41.4h0M196.8 56h0M197.4 57.6h0M197.7 52.6h0M197.6 57.7h0M197.8 47.7h0M197.9 58.5h0M197.7 49.3h0M197.9 57.1h0M197.7 34.7h0M197.3 37h0M197.6 55.1h0M198 55.4h0M197.9 35.1h0M198.1 53.8h0M198.2 49.6h0M198 48.8h0M198.3 51.9h0M198.3 58.2h0M198.2 51.1h0M197.7 59h0M198.8 49.1h0M198.1 46.9h0M198.3 49.5h0M199.1 46.8h0M198.5 37h0M198.1 35.1h0M199 60.2h0M198.6 67.3h0M199.2 67.2h0M199.4 47h0M108.2 252.7h0M108.5 258.6h0M108.7 261h0M109.3 264h0M108.5 268.5h0M108.9 281.7h0M108.9 316.4h0" stroke="#918e1d" stroke-width="1.95" stroke-linecap="square" fill="none"/>
<path d="M18.20 50.14 L19.20 50.14 L20.20 50.15 L21.20 50.15 L22.20 50.16 L23.20 50.16 L24.20 50.17 L25.20 50.18 L26.20 50.18 L27.20 50.19 L28.20 50.20 L29.20 50.21 L30.20 50.22 L31.20 50.23 L32.20 50.25 L33.20 50.26 L34.20 50.28 L35.20 50.30 L36.20 50.32 L37.20 50.34 L38.20 50.36 L39.20 50.39 L40.20 50.42 L41.20 50.45 L42.20 50.48 L43.20 50.52 L44.20 50.56 L45.20 50.61 L46.20 50.66 L47.20 50.71 L48.20 50.78 L49.20 50.84 L50.20 50.92 L51.20 51.00 L52.20 51.09 L53.20 51.19 L54.20 51.30 L55.20 51.42 L56.20 51.55 L57.20 51.69 L58.20 51.85 L59.20 52.03 L60.20 52.22 L61.20 52.43 L62.20 52.66 L63.20 52.92 L64.20 53.20 L65.20 53.51 L66.20 53.85 L67.20 54.22 L68.20 54.64 L69.20 55.09 L70.20 55.59 L70.70 55.86 L71.20 56.14 L71.70 56.43 L72.20 56.74 L72.70 57.06 L73.20 57.40 L73.70 57.76 L74.20 58.13 L74.70 58.52 L75.20 58.94 L75.70 59.37 L76.20 59.82 L76.70 60.29 L77.20 60.79 L77.70 61.31 L78.20 61.86 L78.70 62.43 L79.20 63.03 L79.70 63.66 L80.20 64.32 L80.70 65.02 L81.20 65.75 L81.70 66.51 L82.20 67.31 L82.70 68.15 L83.20 69.03 L83.70 69.95 L84.20 70.92 L84.70 71.94 L85.20 73.00 L85.70 74.12 L86.20 75.29 L86.70 76.52 L87.20 77.81 L87.70 79.16 L88.20 80.57 L88.70 82.06 L89.20 83.62 L89.70 85.25 L90.20 86.97 L90.70 88.77 L91.20 90.65 L91.70 92.63 L92.20 94.70 L92.70 96.88 L93.20 99.16 L93.70 101.55 L94.20 104.06 L94.70 106.69 L95.20 109.46 L95.70 112.35 L96.20 115.39 L96.70 118.57 L97.20 121.91 L97.70 125.41 L98.20 129.08 L98.70 132.94 L99.20 136.98 L99.70 141.21 L100.20 145.66 L100.70 150.32 L101.20 155.21 L101.70 160.33 L102.20 165.71 L102.70 171.35 L103.20 177.26 L103.70 183.46 L104.20 189.97 L104.70 196.79 L105.20 203.94 L105.70 211.44 L106.20 219.31 L106.70 227.57" stroke="#d21f2a" stroke-width="2.4" fill="none" stroke-linecap="round"/>
<path d="M18.6 374.4h0M18.9 380.3h0M19.3 375.9h0M19.6 374.7h0M19.6 378.9h0M19.4 375.2h0M20.1 373.2h0M20.5 387.8h0M19.8 370.2h0M20.2 377.1h0M20.4 380.4h0M20.6 368.2h0M20.3 372.1h0M20.9 380.1h0M20.5 362.9h0M21.1 385.3h0M21 374h0M21.3 386.3h0M21.5 389.8h0M21.3 375.9h0M21.1 373.5h0M20.7 375.7h0M21.7 379.7h0M21 389.8h0M21.6 376.9h0M21.4 372.7h0M21.2 367.3h0M21.1 365.7h0M21.3 368.7h0M21.7 373.1h0M21.8 363.7h0M21.6 369.7h0M21.6 379.9h0M21.4 367.9h0M21.6 390.3h0M21.8 382.1h0M21.6 374.9h0M21.8 369.3h0M22.4 371.8h0M22.4 392.5h0M22.4 376.4h0M22.6 364.3h0M22.1 382.5h0M22.7 389.1h0M22.3 362.7h0M22 380.7h0M22.9 375.5h0M22.6 374.2h0M22.5 356.6h0M22.7 368.6h0M23.8 377.8h0M22.9 386.2h0M23.4 356.7h0M23.4 394.6h0M23.6 385.8h0M23.5 385.9h0M24 365.2h0M23.9 363.6h0M23.6 351.9h0M23.4 381.7h0M23.7 366.3h0M24.2 374.3h0M24.2 386.8h0M24.7 375.1h0M24.3 376.5h0M25 380h0M24.6 378.3h0M24.8 374h0M25.2 362.8h0M24.5 379.9h0M24.7 372.2h0M24.9 400.7h0M24.6 370.3h0M25.6 375h0M25.6 361.3h0M24.9 358.5h0M25.3 379.9h0M25.4 377.9h0M25.4 385.2h0M25.1 378.8h0M25.8 375.9h0M26.3 384.4h0M26 366.9h0M26.3 375.9h0M26.3 365h0M26.8 380.7h0M26.6 377.4h0M27 363.1h0M26.4 375.2h0M26.7 356h0M26.9 362.4h0M27.1 381h0M27.2 372.3h0M27.5 366.4h0M28.3 373.5h0M27.8 382.7h0M27.6 384h0M27 367.6h0M27.1 379.2h0M27.8 392.1h0M27.4 371h0M28.1 397.1h0M27.7 382.3h0M28.2 373.5h0M28.2 374.3h0M28.4 384.6h0M28.1 374.4h0M28.4 369.3h0M28 385.3h0M28.6 381.6h0M28.9 397.7h0M29.2 383.9h0M28.8 370.5h0M28.9 389.4h0M29.6 385.8h0M29.2 373h0M29.4 373.3h0M30 370.8h0M29 372.4h0M30.1 351.6h0M29.3 361.7h0M29.9 385.4h0M30.1 387.5h0M29.6 370.9h0M29.8 360.7h0M30.5 377h0M30.2 371h0M30.5 374.6h0M30.3 369.5h0M30.6 376.7h0M30.8 377.3h0M31.2 381.8h0M30.9 369.8h0M30.9 386.2h0M31.1 372.9h0M31.5 378.6h0M31.6 381h0M31.1 379.9h0M31 390.3h0M31.4 382.5h0M32 374.1h0M32.3 374.1h0M31.7 376.3h0M31.8 375.5h0M32 367h0M31.7 375.8h0M32.2 377.7h0M31.9 381.1h0M32.3 383.2h0M32.1 397.3h0M32.9 379.7h0M33 384.6h0M32.8 380.7h0M32.9 364.8h0M33.1 362.4h0M33.6 372.2h0M33.6 374.3h0M34.1 364.7h0M33.4 374.7h0M33.3 371.1h0M33.6 375.9h0M33.8 361h0M33.8 372.2h0M33.4 363.8h0M34.3 378.3h0M34 375.5h0M33.9 382.9h0M33.8 378.6h0M34.1 383.2h0M34.2 374.1h0M34.1 386.3h0M34.7 368.1h0M34.6 378h0M34.3 379.3h0M34.7 370.8h0M35 372.9h0M34.6 372.1h0M34.5 368.7h0M34.6 369h0M34.9 372.6h0M34.6 380.4h0M35.5 372.6h0M35.6 375.1h0M35.4 371.2h0M35.7 373.8h0M35.4 384.7h0M35.1 373.1h0M35.6 379.2h0M35.7 371.9h0M35.4 378.9h0M35.8 379.2h0M35.6 374.1h0M35.8 382.2h0M36.3 380.2h0M36.4 378.2h0M35.7 366.2h0M35.7 359.4h0M36.3 380.5h0M36.5 375h0M36.5 377.3h0M37 369.5h0M36.7 372.6h0M36.6 387.7h0M36.8 380.2h0M36.9 393.4h0M37.3 371.4h0M37.2 379.7h0M37.4 372.2h0M37.5 369.9h0M37.1 377.5h0M37.7 370.5h0M37.7 377.1h0M38.3 365.3h0M38 386.1h0M38 377.9h0M38.1 371.9h0M38.1 378h0M38.8 376.4h0M38.6 361.6h0M39 379.7h0M38.8 366.8h0M39.2 372.1h0M38.8 370.3h0M38.8 374.4h0M39 379.3h0M39.4 387.7h0M39 372.5h0M39.5 373.7h0M39.4 369.9h0M39.6 376.8h0M39.4 382.1h0M39.3 365.2h0M38.9 372.3h0M38.9 383.7h0M39.5 377.4h0M39.6 367.6h0M39.5 391.5h0M39.6 369.8h0M40.3 375.9h0M40.2 374.9h0M40.4 376.3h0M40.4 367.7h0M40.3 381.7h0M40.4 362h0M40.3 383.4h0M40.5 369.3h0M40.3 393.4h0M40.5 375.4h0M40.3 358h0M40.8 380.1h0M41.2 385.9h0M41.3 379.5h0M40.9 364.5h0M40.4 379.6h0M41.7 373.8h0M40.9 387.6h0M41.5 379.1h0M41.6 379.3h0M42.1 373.6h0M41.4 381.1h0M42 377.8h0M41.9 388.5h0M42.6 393.1h0M42.3 387.4h0M42.2 372.2h0M42.9 373.7h0M42.4 373.2h0M43 380.1h0M43 374.1h0M42.8 358.1h0M42.9 384h0M42.6 379.7h0M42.8 377.4h0M43.1 369.2h0M43.1 371.2h0M43.2 369.4h0M43.9 366.4h0M43.8 366.1h0M43.7 375h0M43.9 370.2h0M43.7 362h0M44.1 373.5h0M43.8 367.7h0M44 377.3h0M44.1 370.1h0M44.3 376h0M43.6 368.2h0M44.7 367.3h0M44.5 382.7h0M44 380.4h0M44.4 386.2h0M44.2 373.9h0M44.4 368.9h0M45 372.8h0M44.7 381.3h0M44.7 364.2h0M45 374.9h0M45.4 372.7h0M44.7 376.6h0M45.2 379.6h0M45.5 374.3h0M45 379.3h0M44.9 369h0M44.8 372.6h0M45.3 361.2h0M45 365.3h0M45.3 381.6h0M45.4 379.1h0M46 368.2h0M45 371h0M46.2 369.3h0M45.2 371.7h0M46 377.5h0M46.4 354.2h0M45.7 387.5h0M46 374.9h0M46.3 381.3h0M47.4 382.9h0M47 378h0M46.9 377.2h0M47.3 364.1h0M47.3 355.1h0M47.1 376.2h0M47.4 381.6h0M47.9 375.6h0M47.6 384.1h0M47.6 367.2h0M47.9 372.9h0M48.3 387.4h0M48.1 377.7h0M47.7 382.9h0M48.3 364.9h0M48.2 380.5h0M48.3 400.5h0M48.1 376.4h0M48.4 371.1h0M48.8 383.6h0M48.4 389h0M49 352.6h0M48.8 372.1h0M49.1 377.8h0M49.3 373.4h0M49.2 378.7h0M48.9 383.8h0M49.2 377.4h0M49.8 382.3h0M49.9 371.1h0M49.4 396.6h0M49.5 368.2h0M49.9 370h0M50 382.7h0M50.3 380.7h0M50.5 387.1h0M50.6 378.9h0M50.8 375.7h0M50.6 381.9h0M50.6 375.1h0M50.7 365.5h0M51 386.5h0M50.5 374.7h0M51 385.3h0M51 378.9h0M51.5 379.3h0M50.9 387.2h0M51.3 372.3h0M51.9 387h0M51.7 376.5h0M52.2 394.6h0M52.3 374.6h0M52.2 381.3h0M51.9 375.9h0M51.8 364.3h0M52.3 388.9h0M52.6 368.1h0M52.5 386.7h0M52.6 377.1h0M52.7 363.6h0M53.7 375.7h0M53.6 391.5h0M54 376.6h0M53.2 368.9h0M53.6 389.5h0M53.5 374.3h0M53.3 379h0M53.7 371.2h0M53.5 379.6h0M53.3 381.6h0M53.8 372h0M53.8 386.3h0M54 380.9h0M54.4 374.4h0M54 366.5h0M53.9 370.2h0M53.7 366.2h0M54.8 387.9h0M54.3 369.9h0M54.4 376.5h0M54 377.2h0M54.7 392.5h0M54.7 386.6h0M55.1 391.1h0M55.3 382h0M55.5 374.9h0M54.9 380.1h0M55.7 378.2h0M55.2 380.8h0M55.4 381.6h0M56 388.6h0M55.4 370.1h0M55.5 383.5h0M55.4 372.2h0M56.2 370.7h0M55.9 389.3h0M55.9 379.9h0M56.2 385h0M56 373.6h0M56.2 379.3h0M56.6 379h0M55.8 378.9h0M57.4 386.4h0M57.1 378.5h0M56.7 374.8h0M57 383.6h0M57.3 392.8h0M58 365.3h0M56.7 389.9h0M57.5 380.3h0M57.4 380.9h0M57.7 369.4h0M57.5 372.3h0M58.1 378.7h0M58 381.8h0M58 385.2h0M58.1 370.9h0M58.7 372.9h0M58.4 382.6h0M58.3 377.7h0M58.4 370.7h0M58.5 379.4h0M58.2 367.8h0M58.2 363.5h0M59.4 368.6h0M59.1 376.4h0M59.4 375.4h0M59 379.8h0M59.3 362.9h0M59.6 390.7h0M60.6 386.5h0M59.8 391.1h0M59.7 382.2h0M60.1 381.4h0M59.9 380.1h0M60.7 365.1h0M60.2 369h0M61 377.2h0M59.8 387.1h0M60.8 382h0M60.3 388.3h0M60 371.7h0M59.8 394.8h0M60.8 364.6h0M61.5 376.8h0M61 382.2h0M61.2 369h0M61.1 378h0M61.2 372.9h0M61.6 382.4h0M61.2 378.3h0M62.5 380.5h0M61.5 374.1h0M61.8 375.7h0M61.7 376.2h0M61.6 370.4h0M62.8 371.2h0M62.4 366.3h0M61.7 382.3h0M62.5 372.1h0M62.5 385.5h0M62.7 384.5h0M62.9 372.6h0M63.1 377.8h0M62.6 384h0M62.7 386.8h0M62.7 367.7h0M63.5 369.9h0M63.5 386.5h0M63 376.1h0M63.8 377.1h0M63.3 387.7h0M63.8 380.2h0M63.2 380.5h0M64.9 377.8h0M64.6 390.9h0M63.6 395.6h0M64.1 378.6h0M64.7 370.6h0M64.6 373h0M63.5 379h0M64.7 376.8h0M65.1 360.7h0M64.7 372.9h0M66.2 377.9h0M65.8 378.1h0M64.6 376.9h0M65.1 382.9h0M65.6 391h0M65.5 370.5h0M66.4 369.1h0M65.9 375.9h0M66.3 372.7h0M66.9 377.6h0M66.8 393.9h0M67 379.1h0M66.6 383.9h0M67.3 379.7h0M67 387.8h0M67 390.8h0M66.7 378.5h0M67.6 399.6h0M67.3 378.4h0M67.2 378.7h0M67.1 378.2h0M67.9 390.4h0M67.3 371.2h0M67.8 382.1h0M68.2 380.1h0M68 395.4h0M67.9 378.3h0M67.5 372.8h0M67.7 379.6h0M67.9 372.8h0M67.4 379.8h0M68.2 375.9h0M68.7 369.8h0M68.3 387.9h0M67.8 373.9h0M67.5 396.1h0M68.6 388.4h0M68.6 389.9h0M68.8 362.8h0M68.9 385h0M69.2 390.6h0M69.9 372.9h0M69 378.9h0M69.5 392.8h0M69.1 394.9h0M70.9 375.8h0M70.5 384.3h0M71 392.4h0M69.2 389.1h0M70.2 384.2h0M69.8 399.9h0M71 387.3h0M70.4 381.4h0M70.3 384h0M70.6 384.6h0M71.4 380.5h0M71.2 388.9h0M70.9 379.2h0M72.1 377.5h0M71.7 361.8h0M71.5 381.8h0M71.4 378.1h0M71.5 373.2h0M71.1 384.1h0M71.5 386.3h0M72.6 382.8h0M71.5 378.9h0M71 391.9h0M71.4 368.2h0M73.4 387h0M73.1 389.8h0M72.5 377.6h0M73.1 391h0M72.8 390.5h0M73.6 382.5h0M73.7 378.7h0M72.3 391.2h0M73 389.6h0M73.2 379.1h0M73.7 379.5h0M72.4 376.3h0M74 402.9h0M74.2 391.5h0M74.2 384.3h0M73.1 399h0M74.4 377.8h0M74.6 393.2h0M74.5 371.1h0M74.4 391.6h0M75.4 385.9h0M74.4 389.9h0M75.5 389.3h0M76 386.1h0M75.2 371.1h0M74.9 383.6h0M75 369.6h0M75.7 398.8h0M75 394.2h0M74.7 391.5h0M74.9 384.2h0M75.1 386h0M75.3 391.1h0M76.5 379.9h0M76.5 387.7h0M74.8 389.7h0M75.4 382.3h0M75.7 406.8h0M76.1 395.9h0M75.6 379.4h0M74.8 388.2h0M75.9 392.3h0M77 382.4h0M76.9 383.3h0M76.2 394.7h0M76.7 389.1h0M76.7 383.9h0M77.5 392h0M76.9 388.8h0M76.8 383.4h0M77 391.2h0M77.9 383.9h0M77.5 388.8h0M77.1 378.5h0M78 386.8h0M77.5 399.4h0M77.2 392.3h0M78.9 376.9h0M78.8 388.5h0M78.3 373.5h0M78.2 393.5h0M77.4 388.6h0M78 385.3h0M78.5 386.9h0M79.1 377.8h0M78.1 390.4h0M78.9 393.4h0M77.4 379.5h0M78.3 374.6h0M78.5 389.6h0M79 383.2h0M78.4 392.5h0M78.7 389.8h0M79.8 375.9h0M78.6 387.6h0M78.5 392.4h0M80.4 390.3h0M80.5 378.9h0M78.5 398.6h0M79.6 385.2h0M79.8 390.9h0M78.6 382.7h0M79.7 380.9h0M79.6 406.5h0M79.9 399.2h0M80 396.3h0M79.7 387.8h0M79.8 386.2h0M80.6 393.8h0M78.9 384.6h0M80.4 386.1h0M79.9 382.5h0M78.5 380h0M79.4 384.6h0M79.5 384.2h0M80.3 403.1h0M80.6 395.3h0M79.6 386.8h0M80.2 387.5h0M81.6 397.6h0M81 397.2h0M80.6 372.1h0M82.2 393.2h0M80.1 389h0M79.8 397.9h0M81 395h0M79.6 391.7h0M79.9 398.8h0M81.9 403.5h0M80.1 395.4h0M80.1 394.5h0M81.9 383.7h0M81 392.1h0M80.5 391.8h0M81 398.9h0M80.3 382.3h0M80 388h0M81.8 390h0M81.2 387.9h0M79.5 384.1h0M80 395.1h0M80.8 387.3h0M80.5 391.2h0M80.6 392.3h0M80.7 385.9h0M80.5 395.3h0M81.5 403.6h0M82.2 405.2h0M79.8 400.5h0M80.9 400.6h0M82.2 399.7h0M80.6 388.3h0M80.9 389.4h0M81.7 393.1h0M80.2 400h0M82.4 390.2h0M81.6 398.6h0M82.8 396.2h0M81.6 395h0M82.3 392.6h0M82.3 384.1h0M81.8 404.8h0M81.9 393.6h0M81.6 385.7h0M81.2 390.8h0M82 390.9h0M83 397h0M80.9 390.4h0M81.6 388.9h0M82.2 401.3h0M81.7 398.7h0M82.4 389.3h0M82.8 387.9h0M82.9 395.1h0M81.5 392.1h0M81.5 402.5h0M84.6 388.7h0M84.1 395.7h0M82.4 397h0M83.7 393.1h0M82.4 390h0M82.9 401.2h0M83.8 383.7h0M83.5 393.4h0M83.6 400h0M84.7 383.1h0M83 394.5h0M84.4 393.9h0M83.4 392.2h0M84.4 407.1h0M84.7 392.2h0M83 394h0M82.4 390.6h0M84.6 406.5h0M83.9 392.6h0M84.1 401.5h0M83.1 390.9h0M82.8 391h0M82.2 404.5h0M84.2 388.5h0M84.5 401.1h0M85.3 393.4h0M84.1 396.9h0M84.4 393h0M84.1 394.8h0M83.8 394.2h0M85.6 401.9h0M84.6 389h0M85 400h0M84.4 400.9h0M84.7 395.5h0M83.5 397.4h0M85.5 391.2h0M86.6 381.8h0M84.9 399.8h0M84.9 401.1h0M85.1 392h0M84.7 400.9h0M85.6 404.5h0M84.9 393h0M86.4 392.9h0M85 406.8h0M87 404.7h0M84.9 390.1h0M86.3 403.2h0M84.6 395.4h0M83.4 395.7h0M85.4 390.7h0M84.2 398.3h0M86.4 398.8h0M84.8 394.4h0M86.1 398.7h0M84.9 392.3h0M85.8 396.5h0M85.8 400.7h0M86.8 401.3h0M86.1 399.9h0M84.2 410.3h0M83.8 399.1h0M85.2 392.9h0M86.6 398.2h0M85.6 401.7h0M87 397.7h0M85.6 400.3h0M86 405.6h0M86.1 392.6h0M86.2 401.4h0M86.2 400.1h0M86.8 395.3h0M85.7 402.4h0M85.9 400.7h0M86.5 400.3h0M85.6 407.6h0M87.6 400.4h0M86.6 391.8h0M84.8 391h0M86.3 395h0M87.8 403.3h0M87.2 402.3h0M86.6 390h0M86.2 396.6h0M88.2 408.2h0M87 403.3h0M87.7 409.6h0M87.6 399.8h0M88.1 396.1h0M86.6 400.8h0M87.4 391.5h0M88.7 412.7h0M87.8 404.6h0M86.9 403.8h0M89.2 395.7h0M87.8 402.1h0M87.8 398h0M86.2 404h0M86.9 402h0M89.1 399.7h0M88.5 403.9h0M89.9 406h0M87.2 403.1h0M88.7 400.4h0M88.9 402.8h0M87.7 408.4h0M88.8 404.6h0M90 402.6h0M87.6 406.8h0M88.1 401.5h0M88.1 395.1h0M89.4 407.4h0M89.1 405.7h0M89.6 406h0M88.1 402.9h0M89.3 400.4h0M88.5 396.9h0M87.8 397.2h0M89.7 396.9h0M89.9 399.4h0M88.7 400.1h0M89.5 403.6h0M87.1 399.9h0M91 408h0M89.3 389.2h0M88.9 389.1h0M89.2 409.4h0M88.6 402.6h0M87.5 407h0M88.8 408.1h0M89.8 408.2h0M88.6 406.8h0M90 399h0M90.1 404.9h0M89.6 403.3h0M88.3 405.7h0M88.8 400.1h0M89.8 403.2h0M91.2 411.7h0M89.4 408.4h0M88.9 403.4h0M89.9 401.8h0M89.2 397.8h0M89.4 404h0M89.4 408.8h0M90.5 404.5h0M89.8 409.8h0M91.5 413.1h0M88.1 408h0M89 407.3h0M90 397.1h0M90.2 404.8h0M89.6 405.2h0M90.4 393.7h0M88.4 404.9h0M90.5 392.7h0M90.9 398.3h0M92.8 400.6h0M90.8 411.6h0M90.1 401.9h0M92.7 401.7h0M90.1 406.5h0M89.9 412.3h0M90.2 407h0M90.7 401.5h0M90.4 403.2h0M90.5 410.2h0M90.8 414.3h0M90.9 401.5h0M93.2 400.3h0M92.1 409.9h0M89.5 400.6h0M91.7 403.7h0M94.4 411.3h0M91.8 405.4h0M91.8 404.3h0M92.8 404.2h0M91.5 403.3h0M90.9 403.7h0M92.4 409h0M88.4 406.4h0M91.6 399.4h0M89.5 403.7h0M92.2 401.5h0M90.4 400.4h0M92.5 411.6h0M90.3 412.5h0M92.4 406.4h0M92.2 407.8h0M89.5 406.6h0M90.9 409.6h0M91.5 406.2h0M93.2 401.6h0M93.8 405.8h0M91 407.8h0M92.9 407.8h0M93.1 405h0M93 409.2h0M91.2 402.1h0M92.6 409h0M93.2 417.1h0M93.6 408.9h0M93.5 412.9h0M89.9 415.9h0M92.5 413.5h0M92.2 409.3h0M93.5 406.7h0M93.2 408.8h0M92.9 409.7h0M91.5 407.9h0M92.7 414.5h0M91.4 405.4h0M93.9 416.6h0M93.1 406.3h0M92.9 408.1h0M93.2 412.9h0M94 414.9h0M93.7 416.4h0M94.5 411.6h0M94 412.5h0M93.9 413h0M92.6 418.4h0M94.4 415.7h0M95 413.9h0M92.1 420.9h0M94 416.6h0M92 416h0M93.2 414.4h0M94.4 412.9h0M95 414.4h0M92.8 416.2h0M94.9 414.8h0M95.7 419.3h0M95.3 416.3h0M93.6 414.6h0M97.5 416h0M96 417.9h0M96 414.9h0M94.9 424.8h0M96.2 416.5h0M95.7 414.4h0M93 420.3h0M97 420.9h0M95.7 414.9h0M95.3 419h0M95.2 420.8h0M94.9 416h0M95.3 416.9h0M96.1 417.1h0M94.9 417.7h0M94.9 418.8h0M93.7 417.8h0M96.3 418h0M97.1 420.4h0M96 419.1h0M98.4 420.8h0M96.8 416.5h0M96.9 416.4h0M97.3 418.3h0M95.1 419.3h0M94.2 421.2h0M95.7 417.5h0M97.5 420h0M93.2 425.7h0M96.5 420.7h0M94.3 422.1h0M95.9 414.3h0M96.4 422.7h0M96.7 425.7h0M97.6 418.9h0M94.7 424.2h0M98.7 423.7h0M95.5 429.1h0M98.9 421.8h0M98.3 420.1h0M96 421h0M97.7 423.7h0M93.8 420.4h0M100 422.7h0M96 425.7h0M101.3 424.5h0M93.5 416.6h0M100.2 427.4h0M97.9 423h0M92.8 428.3h0M99.4 423.1h0M98.6 426.8h0M101.1 426h0M95.4 426.5h0M97.6 423.8h0M96.1 424.4h0M96.5 425.8h0M98.8 423.8h0M97.5 426.5h0M95.6 428.7h0M98.8 425.5h0M95.8 426.8h0M98.4 431.2h0M99.9 428.6h0M98.2 429.9h0M97.2 429.7h0M101 423.8h0M99 431.4h0M95.3 429.5h0M99.3 425.5h0M99.3 429h0M100.4 421.8h0M99.7 431.7h0M99.1 435.2h0M98.5 425.9h0M98.7 431.9h0M100.9 430.3h0M98.4 426.4h0M98 432.1h0M98.3 432.5h0M100.4 430.7h0M98.4 430.8h0M100 429.3h0M99.9 428.3h0M102.9 433.8h0M98.8 431h0M100.3 428.2h0M98.9 432.2h0M100.4 429h0M99.5 434.1h0M102 433.7h0M98.9 433.3h0M97.7 432h0M97.3 430.5h0M100.3 433h0M98.2 433.4h0M99.3 431.9h0M99.1 433.7h0M103.4 433h0M102.3 432.2h0M98.3 435.2h0M99.8 435.5h0M97.7 438.3h0M102.1 432.4h0M101.5 436h0M99.5 432.6h0M96.8 441.6h0M99.4 435h0M100.2 434.6h0M97.5 432h0M100.3 433.3h0M99.2 435.7h0M98 432.4h0M98.4 436.3h0M98.5 434.2h0M100 434h0M99.5 433.5h0M100.3 437.2h0M99.9 432.4h0M99.8 440h0M99.7 438.6h0M101.1 436.8h0M103.7 430.1h0M100.3 440.6h0M101.1 439.9h0M103.1 438.4h0M99.5 440.2h0M97 441.2h0M100.1 434.2h0M104.4 439.6h0M99.7 434.8h0M101.6 436.7h0M104.4 437.1h0M104 444.1h0M103.2 441.1h0M97.7 446.8h0M103 438.2h0M99.6 441h0M102.2 440.5h0M104.3 442.9h0M98.8 440.3h0M98.7 442.8h0M103.2 447.3h0M101.9 445.8h0M99.3 446.3h0M104.4 440.9h0M101.4 443.9h0M107.7 439.9h0M104.8 445.1h0M99.6 441h0M101.7 445.6h0M101 443.2h0M105.3 449.4h0M101.9 443.6h0M98.9 446h0M103 449.1h0M104.4 447.6h0M103.5 448.3h0M103.3 453h0M102.3 448.9h0M105.2 443.1h0M105.1 447.8h0M104.3 449.7h0M101.8 451.6h0M102.1 455.3h0M100.9 451.5h0M107.7 454.9h0M106.3 453.4h0M104.3 455.4h0M101.1 450.5h0M105.1 451.6h0M104.4 445.9h0M102.2 452.3h0M104.8 452.6h0M104.2 456.7h0M106.1 457.9h0M102.8 456.7h0M104.2 447.9h0M106.1 461.2h0M102.8 451.3h0M106.3 457.4h0M107.1 457.1h0M107.1 459.5h0M104 456.7h0M106.2 456.4h0M108.5 455.6h0M104.8 455.5h0M105.1 461.2h0M109.4 461.1h0M109.5 462.2h0M105.4 460.5h0M104.1 462.5h0M108.5 461.4h0M104.9 463.2h0M105.6 464.9h0M105.5 461.2h0M105.3 462.6h0M104.2 463h0M107.7 462.6h0M105.5 463.7h0M103.7 468.9h0M104.9 463.4h0M102.9 459h0M107.6 462.4h0M103.9 462.3h0M105.5 462.4h0M106 465.4h0M107.6 467.7h0M108.8 469.7h0M105.4 467.8h0M109.3 466.6h0M103.3 468.4h0M106 475.8h0M106.2 477.5h0M108.6 477.8h0M108.1 475.5h0M110.6 478.2h0M105.8 476.2h0M109.3 476.9h0M104 476.8h0M107 477.4h0M105.3 473.6h0M111.7 484.8h0M106.5 483.7h0M103.7 482.3h0M107.1 487h0M109.1 476.7h0M106.9 485.3h0M106.9 486h0M107.3 487.9h0M106.8 487.7h0M111.3 494.6h0M108.4 491.6h0M106.2 491.7h0M105.9 489.7h0M111.2 489.1h0M105.6 491h0M111.5 486.7h0M107.9 486.7h0M107.7 495.7h0M109.8 491.5h0M108.1 499.9h0M106.9 501h0M107.1 497.5h0M109.9 504.3h0M108.3 504.1h0M111.1 500.2h0M107.7 504h0M106 507.4h0M111.8 506.6h0M111.7 511.5h0M109.1 513.7h0M108.6 519.5h0M111.4 519.8h0M107.9 521.5h0M108.7 507.2h0M109.8 502.1h0M110.1 483.1h0M110.1 479.8h0M110.1 480.4h0M110.5 474.5h0M110.1 472.7h0M110.2 460.2h0M110.2 459.4h0M110.8 453.8h0M110.7 451.5h0M110.8 441.9h0M111.1 441.9h0M110.8 442.4h0M110.6 440.4h0M110.7 433.6h0M110.8 434.3h0M111.5 427.6h0M111.5 427h0M111 424.7h0M111.1 421.2h0M111.2 421.3h0M111.6 416.7h0M111.8 414.6h0M111.8 415.1h0M111.7 412.7h0M112.1 413.3h0M111.8 414.2h0M112.2 403h0M112.2 401.7h0M112.5 401.1h0M112.3 404.9h0M112.1 397.4h0M113 402.2h0M112.8 404.7h0M112.8 410.8h0M112.7 392.2h0M112.5 393.4h0M113 395.8h0M113.2 391.6h0M113.5 384.3h0M113.4 377.2h0M113.5 385.1h0M113.4 379.9h0M113.6 382.1h0M113.5 382.2h0M113.4 381.1h0M114 369.5h0M113.4 365.4h0M113.9 382.1h0M113.4 384.6h0M113.5 381.4h0M113.8 387.2h0M114.1 368.5h0M114 399.2h0M113.7 381.8h0M114 388.7h0M114.5 380.9h0M114.5 381.6h0M114.3 396.5h0M115 384.3h0M114.8 389.7h0M115.4 384.2h0M115.2 380.3h0M115.5 379.8h0M116 374.7h0M115.4 380.6h0M115.7 362.5h0M116.3 384.2h0M116 390.2h0M115.8 371.6h0M116.1 371.2h0M116.4 384.6h0M115.9 382.7h0M116.7 368.7h0M116.2 365.9h0M116.3 372.7h0M116.4 384.7h0M117 366.1h0M116.8 369h0M116.8 364.9h0M116.2 379.1h0M116.6 367.1h0M116.4 376.4h0M116.6 359.6h0M116.8 383.5h0M117.2 381.6h0M117.3 379.5h0M117.2 367.4h0M117.2 389.7h0M117.7 394.4h0M117.9 391h0M118 370.3h0M118.3 369.1h0M118.3 376.4h0M118.5 366.1h0M118.6 371.2h0M118.7 376.7h0M118.7 384.8h0M119 366.8h0M119 383.1h0M118.9 369.9h0M119 377h0M119.6 378.6h0M120 371.8h0M119.4 377.3h0M119.7 372.9h0M119.2 366.4h0M119.9 368.6h0M120.7 362h0M119.3 382.3h0M120.5 368.1h0M120.5 379.5h0M121.3 382.8h0M121.1 373.2h0M120.6 380.7h0M120.5 378h0M120.7 373.9h0M121 369.9h0M120.9 377.7h0M121 370.1h0M121.8 373.1h0M120.8 388.8h0M121.7 373.7h0M121.3 376.6h0M121.5 386.1h0M121.1 364.6h0M121.7 378.3h0M121.2 381.3h0M121.5 368.9h0M122 369.3h0M121.7 373.4h0M121.3 375.2h0M122 372h0M122 381.2h0M122.6 370.5h0M122 383h0M122.2 379h0M122.1 368.1h0M122.5 363.8h0M122.1 369h0M121.9 368.6h0M122.4 368.7h0M122.4 359.1h0M122.5 366.9h0M122.6 381.4h0M123.4 370.2h0M123.1 378.8h0M123.5 387.6h0M122.8 374.2h0M122.9 376.1h0M122.9 384.1h0M123.7 380.1h0M123.2 363.3h0M123.6 383.7h0M123.5 355.5h0M123.9 380.3h0M123.8 387.9h0M123.3 360.9h0M123.6 360.6h0M123.3 383.9h0M123.7 374.1h0M123.4 370.3h0M123.5 386.3h0M123.9 381.3h0M124 377.4h0M123.7 356.9h0M124 377.9h0M124 373.3h0M123.8 381.1h0M123.9 378.2h0M124.7 366.8h0M124.8 401h0M125.3 364.1h0M125 389.2h0M124.7 374.6h0M125 375.6h0M125.2 374.7h0M124.8 379h0M125.3 375.6h0M125.5 378h0M125.9 369.9h0M126.4 380.3h0M126 365.6h0M126.2 378.2h0M125.6 375.7h0M126.4 377.1h0M126.4 375.3h0M126.4 390.1h0M126.3 377.9h0M126.7 386.3h0M126.9 376.4h0M126.6 389.2h0M126.9 374.6h0M127.3 385.9h0M126.8 377.2h0M127 378.7h0M127.6 371.8h0M127.8 376h0M127 378.6h0M126.8 361.2h0M127.3 375.4h0M127.7 379.3h0M128.2 363h0M127.8 370.6h0M127.3 368.9h0M128.3 372.6h0M128.2 378.3h0M128.3 350.8h0M128.2 376.1h0M128.7 374h0M128.1 389.9h0M128.4 369.2h0M128.9 358h0M128.2 365h0M128.3 379.7h0M128.5 362.6h0M128.9 369.9h0M128.4 363h0M128.9 368.1h0M128.7 370.4h0M128.9 384.2h0M129 387.3h0M128.8 368.5h0M129.5 372.4h0M129.6 375.5h0M129.8 369.9h0M130.3 375.8h0M130.3 383.4h0M130.8 381.8h0M130.5 369.4h0M130.9 383.7h0M130.2 366.7h0M131 380.1h0M131.1 380.6h0M131.1 364.1h0M131.3 377.2h0M131.3 375.6h0M131.9 365.3h0M130.7 372.8h0M131.8 369.4h0M131.8 386.9h0M132.3 366.8h0M132 353.7h0M132.4 368.4h0M132 375.7h0M132.6 377.9h0M132.9 370.5h0M132.3 377.5h0M132.7 379.4h0M133.2 374.1h0M133.5 372h0M133.3 370h0M133.3 382.5h0M133 379.7h0M133.5 375.7h0M133.6 386.6h0M133.8 366h0M133.9 372.7h0M134 385.1h0M134.4 390.3h0M133.6 380.8h0M134.8 368.5h0M134 377h0M135 366.8h0M133.9 374.7h0M134.3 374.9h0M134.5 380.7h0M134.5 383h0M134.6 374.5h0M134.7 372.1h0M135 361.8h0M134.8 383.5h0M134.6 380h0M135.1 379.1h0M135 391.5h0M134.9 376.8h0M135.3 373.2h0M135.5 364.7h0M135 368.9h0M135.3 375.8h0M135.8 371.9h0M135.7 389h0M135.8 377.6h0M136.5 377.2h0M136.1 371.2h0M135.7 374h0M136.5 372.3h0M136.2 359.6h0M136.8 377.9h0M136.8 373.7h0M137.2 358.9h0M136.9 375.6h0M137.2 371.2h0M136.7 386.4h0M137.1 382.5h0M137.2 373.7h0M137.5 386.1h0M136.9 378.8h0M137.7 380.3h0M137.6 375.1h0M138.1 379.4h0M136.8 370.2h0M138.3 383.6h0M137.4 367.9h0M138 365.9h0M137.9 369.5h0M137.7 388.7h0M138.2 376.2h0M137.9 350h0M138.2 367.3h0M138.4 371.7h0M138.3 378.7h0M138.5 382.6h0M137.9 379.9h0M138.5 364.6h0M138.5 374.3h0M138.2 381.7h0M138.1 380.1h0M139.1 376.5h0M139 379h0M139.1 368.7h0M139.2 378.6h0M139.4 380.6h0M139.8 375.2h0M139.1 372.3h0M139.1 390.1h0M139.2 377.7h0M139.4 374.4h0M139.6 389.2h0M139.6 376.1h0M140.3 365.4h0M139.7 369h0M139.9 386.5h0M140 392.5h0M140 368.2h0M140.7 367.4h0M140 360.8h0M140.6 371.6h0M141.2 379.5h0M140.6 366h0M140.4 377.2h0M140.6 364.4h0M141.3 371.4h0M140.8 379.3h0M141.1 376h0M141 373.3h0M141 373.2h0M142 372.5h0M142.3 374.8h0M141.6 386.4h0M141.8 384.1h0M142 372.2h0M142.3 373.3h0M142.5 362.9h0M142.3 388.3h0M141.8 380.4h0M142.6 378.5h0M142.8 369.9h0M142.7 375.3h0M142.9 369.4h0M143.1 375.9h0M143.3 374.9h0M142.8 383.5h0M143.7 366h0M143.1 381.4h0M143.6 378.5h0M144.1 368.4h0M143.7 367.5h0M144 386.8h0M143.9 376.1h0M144.4 365.5h0M144.4 373.1h0M144.3 377.9h0M144.5 388.8h0M144.3 373.1h0M144.9 378.9h0M145 382.6h0M144.5 378.3h0M144.5 372.7h0M144.6 372.9h0M144.1 373.8h0M145 374.1h0M145 384.6h0M145 369.9h0M145.1 363.5h0M145.1 389.7h0M144.3 370h0M145.3 367.6h0M145.8 376.9h0M145.7 365.1h0M145.9 389h0M146.1 383.7h0M145.6 358.6h0M146.5 372.3h0M147.2 376h0M146.5 380.2h0M146.6 371.9h0M146.6 366.8h0M146.7 383.8h0M146.6 371h0M146 378.1h0M146.6 355.4h0M147.2 373.7h0M147.3 359.9h0M147.2 377.3h0M147.3 377.9h0M147.5 381.2h0M147.2 365.7h0M147.7 367.7h0M147.2 370.9h0M148.2 368.9h0M147.7 386.8h0M147.5 372.6h0M147.7 387.6h0M147.8 370.2h0M148.4 375.7h0M147.8 365.1h0M148.2 372h0M148.3 372.3h0M148.4 384.9h0M148.3 373.8h0M148.9 370.4h0M148.7 370.5h0M148.5 372.3h0M148.3 382.9h0M149.2 370.1h0M148.9 383.5h0M149.3 374.9h0M149.5 383.8h0M149.3 383.4h0M149.8 369.4h0M149.5 384.1h0M149.8 377.8h0M150 377.5h0M150.4 380.1h0M149.8 367.9h0M149.7 377h0M149.8 381.5h0M150.3 383.1h0M150.3 377.6h0M150.2 378.9h0M150.9 350h0M150.4 377.3h0M150.3 382.4h0M150.9 381.3h0M151 384.3h0M151 374.2h0M151.3 374.4h0M151 379.6h0M151.2 375.3h0M151.1 377.4h0M151 382.3h0M151.8 373.5h0M151.6 392.2h0M151.7 368.5h0M152.2 377.7h0M151.9 369.6h0M151.8 366.4h0M151.8 374h0M151.9 396.9h0M152.5 354.7h0M152.1 376.3h0M153 360h0M152.3 371h0M152.8 381.4h0M153.3 371.7h0M153.6 386.6h0M154.1 385h0M153.4 375.1h0M153.8 370.1h0M154.3 355.9h0M154.3 366.8h0M153.5 384.1h0M154.7 381.7h0M154.3 367.3h0M154.1 380.8h0M153.9 380.7h0M154.1 370.8h0M154.3 375.6h0M154.1 364.8h0M155.1 373.5h0M154.6 384.7h0M155 387.5h0M154.8 377.8h0M155.2 374.2h0M155.3 368.3h0M155.3 365.5h0M154.8 377h0M155.3 377.9h0M155.7 372.3h0M155.3 359.7h0M155 374.3h0M155.9 398.9h0M156.5 368.6h0M156.3 359.7h0M156.4 376.5h0M156.5 361.6h0M157.4 386.2h0M157.2 376.4h0M156.8 350.5h0M156.9 372.3h0M157.3 376.5h0M157.9 375.5h0M157.8 358.4h0M157.2 380.2h0M157.8 373.4h0M157.5 366.7h0M158.1 388.2h0M157.8 376.9h0M157.6 377.9h0M158.6 378.8h0M158.3 375.4h0M158 371h0M158.1 369.4h0M157.8 384.7h0M158.3 364.9h0M158.1 376h0M158.4 377.5h0M158.6 397.3h0M159.1 390.7h0M158.8 388h0M158.4 368.2h0M158.8 371.2h0M158.7 378.4h0M158.8 387.4h0M158.9 377.4h0M158.9 369.3h0M159.1 377.1h0M159.6 378.5h0M160 369.7h0M159.7 397.3h0M159.7 378.4h0M159 378.1h0M159.4 382.4h0M159.4 371.9h0M159.3 370.6h0M159.7 372.3h0M159.9 378.8h0M159.6 366h0M159.8 383.2h0M160.2 388.1h0M160.2 376.4h0M160 381.8h0M160 378.6h0M160.3 366.7h0M160.5 373.4h0M160.4 385.2h0M160.3 368.4h0M160.7 373.3h0M160.5 384.8h0M160.6 385h0M161.1 379h0M161.3 365.2h0M160.7 360.3h0M161.3 375.9h0M161.4 366h0M161.2 374.7h0M161.7 384.2h0M161.9 359.8h0M161.2 375.3h0M161.6 401h0M162.1 360.7h0M162 373.7h0M162.3 371.9h0M162.5 374.5h0M162.5 371.5h0M161.9 379.8h0M162.3 372.2h0M162.5 397.8h0M162.7 382.4h0M163.2 363h0M163.2 379.4h0M163.6 389.9h0M163.9 371.9h0M163.6 370.8h0M163.9 357.8h0M163.7 380.3h0M164.1 373h0M163.5 374.6h0M163.8 385.6h0M164.1 388.2h0M163.7 386.4h0M164.4 360.8h0M164.5 383h0M164.6 385.4h0M165.1 380h0M164.8 379.4h0M165 374.1h0M164.6 375.8h0M165.1 374.3h0M165.1 372h0M164.9 362.2h0M165.5 364.8h0M165.2 366.1h0M165.3 401h0M165.8 372.1h0M165.1 374.3h0M165.7 377.4h0M165.5 370.4h0M165.6 379.1h0M165.7 368.8h0M165.9 379.1h0M166 386.5h0M166.4 382.8h0M166.3 376.4h0M167 372.4h0M166.8 387.8h0M166.8 380h0M167.2 381h0M167.4 372.5h0M166.7 393.8h0M167.5 352.7h0M167.2 362.4h0M166.9 381h0M167.3 378.6h0M167.2 364.4h0M167.3 369.8h0M167.3 374.9h0M167.3 373.9h0M167.7 373.9h0M167.7 383.1h0M167.7 377.5h0M168.3 381.4h0M168.5 359.6h0M168.6 367h0M168.6 367h0M169.2 383.8h0M168.8 370.5h0M169.5 376.9h0M169.4 381.6h0M169.4 369h0M169.5 377.1h0M169.4 372.8h0M169.4 381.2h0M169.8 377.9h0M170.2 362.2h0M170 372.8h0M169.4 370.9h0M169.5 381.9h0M169.9 385.1h0M169.6 370.3h0M169.7 371.8h0M170.1 365.6h0M170.9 371.9h0M170.3 366.8h0M170.4 367.6h0M170.2 367.8h0M171.5 374.3h0M171.6 360.7h0M170.9 370.5h0M170.6 363.4h0M171.1 376.3h0M171.6 355h0M171.2 379.9h0M171.3 371.9h0M171.2 375.4h0M171.1 380.7h0M171.6 370.8h0M171.4 371.4h0M171.7 386h0M171.4 378h0M172 374h0M171.4 385.5h0M171.6 369.6h0M171.9 368.8h0M172 373.8h0M172.2 372.9h0M172.2 369.4h0M171.7 366.5h0M172.4 373.7h0M172.5 380.7h0M172 384.2h0M173.1 383.5h0M172.2 378h0M172.5 384.6h0M172.8 370.8h0M172.8 387.2h0M173.7 384.4h0M173.7 354.7h0M173.3 369h0M173.3 385.2h0M173.5 369h0M173.5 374h0M173 369.8h0M173.2 373.5h0M173.1 375.4h0M174.3 379.3h0M174.2 365.8h0M174.2 365.9h0M173.8 383.9h0M174.1 363.5h0M174.3 371.1h0M173.9 366.5h0M174.4 361.1h0M174.4 380h0M175 377.8h0M174 358.2h0M175 362h0M175.2 369.2h0M174.4 369.6h0M174.8 367.6h0M174.7 372h0M175 385.4h0M175 368.9h0M174.7 363.5h0M175.4 377.7h0M175.4 383.5h0M175.1 371.3h0M175.7 372.3h0M175.4 358.2h0M175.8 370.5h0M175.4 381.7h0M175.6 358.6h0M176.4 370.9h0M176.1 377.9h0M176.1 369.1h0M176 377.7h0M176.5 381.1h0M175.8 350h0M176.3 385.9h0M176.2 362.5h0M176.1 374.2h0M176.5 388.6h0M176.3 377h0M176 374.9h0M176.4 382.8h0M176.5 380.5h0M176.2 369.5h0M176.6 368.6h0M176.6 367.5h0M176.4 379.7h0M176.9 372.3h0M177.5 379.4h0M177.3 381.3h0M176.9 370.1h0M177.2 386h0M177.2 363h0M177.3 376.7h0M177.2 379.9h0M177.7 373h0M177.7 370.9h0M178 377.7h0M178 355.2h0M178 366.4h0M178.6 369.4h0M177.9 374.9h0M178.3 367h0M178.5 357.5h0M177.8 397.4h0M178.2 381.2h0M178.4 379.4h0M178.7 363.5h0M178.3 359.5h0M179.5 386.5h0M178.6 373.1h0M178.7 374.1h0M179 381.6h0M179.2 382.8h0M178.9 356.4h0M178.8 382.1h0M178.7 373.5h0M179.5 378.2h0M179.3 369.6h0M179.8 370.4h0M179.8 375.3h0M179.7 382.1h0M179.9 373.8h0M180 380.4h0M180.1 372.2h0M180.1 381.4h0M180.5 380.2h0M180.1 372.9h0M180.3 370.6h0M180.1 382.1h0M180.7 368.8h0M180.5 366.6h0M180.6 374h0M181.1 372.2h0M181.1 366.3h0M181.2 364.1h0M181.7 376.6h0M181.2 382.7h0M181 369.1h0M181 383h0M181.4 368.9h0M181.8 386.2h0M181.2 382.4h0M181.4 375.7h0M181.9 381.6h0M181.3 369.2h0M181.8 360h0M182.5 373.5h0M181.7 359.2h0M181.9 367.5h0M182.6 385.9h0M182 394.5h0M181.7 374.2h0M181.9 379.2h0M182.1 356h0M181.9 381.8h0M182.5 380.5h0M182.6 375.7h0M182.8 360.1h0M182.6 375.6h0M182.8 381.3h0M182.5 370.7h0M182.7 377.2h0M183.2 364.8h0M182.5 365.1h0M183.5 377.7h0M182.7 371.7h0M183 383.1h0M183.3 371.8h0M183.5 385.4h0M183.4 370.9h0M183.3 374.7h0M183 381.8h0M183.5 374.8h0M183.9 375.8h0M183.5 366.2h0M184 366.6h0M183.9 386.1h0M183.9 376h0M184.5 370.8h0M183.9 375.5h0M184 361.2h0M183.6 375.3h0M183.6 381h0M184 374.3h0M184.4 363.3h0M184.9 370.1h0M184.5 381.1h0M185.1 383.1h0M184.9 386.2h0M184.5 389h0M184.8 373.4h0M185.1 376h0M184.4 387.3h0M185.1 379h0M184.8 370h0M184.8 385.2h0M185.1 353.9h0M185.5 377.6h0M185.3 399.1h0M185.7 379.7h0M185.3 370.8h0M186.1 380.4h0M185.9 379.8h0M185.1 375.5h0M186 389.9h0M185.6 375.4h0M186.2 363h0M185.4 382h0M186.3 373.9h0M186 367.8h0M186.2 376.6h0M186.5 377h0M186.6 395.1h0M186.8 368.1h0M186.7 378.1h0M187 385.1h0M186.5 391.7h0M186.9 373.4h0M187 381h0M187.1 371.7h0M186.6 390.1h0M186.6 361.1h0M187.2 388h0M187.1 365.7h0M187.2 382.9h0M187 369.6h0M187.4 374.2h0M186.9 374.6h0M187.3 379.1h0M187.6 369h0M187.4 368.5h0M187.3 381.1h0M187.8 383.7h0M188.2 369.2h0M188 371h0M187.9 381.1h0M187.7 363.4h0M188.5 377.3h0M187.9 392.7h0M188.4 374h0M188.5 370.7h0M188.3 381.1h0M188.2 370.5h0M188.5 394.1h0M188.1 379.3h0M188.5 387.3h0M188.4 368.4h0M188.7 376.6h0M189.3 377.7h0M188.8 375.5h0M189.4 375.1h0M189.1 375.8h0M188.9 358.3h0M188.9 379.1h0M189.2 367.7h0M189.4 374.7h0M188.8 376.4h0M189.3 379.7h0M189.2 378.4h0M189.2 366.1h0M189.4 369h0M189.4 369.3h0M189.2 388.8h0M190 383.3h0M189 378.6h0M190 372.4h0M189.9 365.2h0M189.7 375.7h0M190 381.6h0M189.6 365.5h0M190.5 373.8h0M189.9 360.4h0M190.4 385.6h0M190.3 371.1h0M190.5 365.9h0M190.8 386.6h0M191.1 383.5h0M190.6 389.5h0M190.6 364.2h0M190.6 380.6h0M190.9 367.6h0M191.1 376h0M190.7 378.5h0M191.2 375.1h0M191.1 371.4h0M191.3 370h0M190.9 379.7h0M191.2 362h0M191.9 371.5h0M191.6 370.7h0M192 369.5h0M191.8 383.5h0M192.2 374.7h0M191.7 378.7h0M192.7 377h0M193.5 371h0M192.9 371.8h0M193.5 362.9h0M193.4 367.6h0M193.1 380.2h0M193.4 373.8h0M192.8 376.1h0M193.6 382.4h0M193.6 371.9h0M193.7 380.7h0M193.6 385.8h0M193.7 376.7h0M194.2 375.7h0M193.7 387.8h0M193.6 378.1h0M194.7 366.5h0M194.2 376.3h0M194.2 369.2h0M195.5 361.9h0M194.7 380.8h0M194.8 367.4h0M194.6 362.1h0M194.8 373.2h0M195.2 384.1h0M195 384.3h0M194.8 372.4h0M194.9 374h0M195.1 362.6h0M195.3 371.4h0M194.8 371.3h0M194.9 378.3h0M194.7 374.3h0M195.2 364.1h0M195.4 391.8h0M196.1 371.3h0M196.3 380.3h0M196.3 360.5h0M196.5 366.7h0M196.7 386h0M196.2 379.8h0M196.9 369.4h0M196 369.3h0M196.7 360.4h0M196.7 350h0M196.8 385.6h0M196.7 384.4h0M197.5 373.3h0M197.5 372.1h0M197.5 368.3h0M198.3 379.3h0M197.7 378.4h0M198.2 370.8h0M197.9 360.3h0M198.1 371.1h0M198.6 370.3h0M198.6 377.1h0M198.4 372.7h0M199.2 373.3h0M198.9 376.7h0M199.3 363.5h0M199.7 387.3h0M198.9 369.7h0M199.4 387.7h0M199.1 357.5h0M199.5 381.6h0M198.8 370.2h0M199 386.2h0M109.2 521.5h0M109 512h0M108.8 505h0" stroke="#555" stroke-width="2.0" stroke-linecap="square" fill="none"/>
<path d="M19.10 375.76 L20.10 375.78 L21.10 375.80 L22.10 375.82 L23.10 375.84 L24.10 375.87 L25.10 375.89 L26.10 375.92 L27.10 375.95 L28.10 375.98 L29.10 376.01 L30.10 376.05 L31.10 376.09 L32.10 376.13 L33.10 376.17 L34.10 376.22 L35.10 376.26 L36.10 376.32 L37.10 376.37 L38.10 376.43 L39.10 376.50 L40.10 376.57 L41.10 376.64 L42.10 376.72 L43.10 376.80 L44.10 376.89 L45.10 376.99 L46.10 377.09 L47.10 377.20 L48.10 377.32 L49.10 377.44 L50.10 377.58 L51.10 377.72 L52.10 377.87 L53.10 378.04 L54.10 378.21 L55.10 378.40 L56.10 378.60 L57.10 378.81 L58.10 379.04 L59.10 379.29 L60.10 379.55 L61.10 379.83 L62.10 380.12 L63.10 380.44 L64.10 380.78 L65.10 381.15 L66.10 381.54 L67.10 381.95 L68.10 382.40 L69.10 382.88 L70.10 383.38 L70.60 383.65 L71.10 383.93 L71.60 384.21 L72.10 384.51 L72.60 384.81 L73.10 385.13 L73.60 385.46 L74.10 385.79 L74.60 386.14 L75.10 386.50 L75.60 386.88 L76.10 387.26 L76.60 387.66 L77.10 388.07 L77.60 388.50 L78.10 388.94 L78.60 389.39 L79.10 389.86 L79.60 390.35 L80.10 390.85 L80.60 391.38 L81.10 391.91 L81.60 392.47 L82.10 393.04 L82.60 393.64 L83.10 394.25 L83.60 394.89 L84.10 395.55 L84.60 396.23 L85.10 396.93 L85.60 397.66 L86.10 398.41 L86.60 399.18 L87.10 399.99 L87.60 400.82 L88.10 401.67 L88.60 402.56 L89.10 403.48 L89.60 404.43 L90.10 405.41 L90.60 406.42 L91.10 407.47 L91.60 408.55 L92.10 409.67 L92.60 410.83 L93.10 412.03 L93.60 413.27 L94.10 414.55 L94.60 415.87 L95.10 417.24 L95.60 418.65 L96.10 420.12 L96.60 421.63 L97.10 423.19 L97.60 424.81 L98.10 426.48 L98.60 428.21 L99.10 429.99 L99.60 431.84 L100.10 433.75 L100.60 435.73 L101.10 437.77 L101.60 439.88 L102.10 442.06 L102.60 444.32 L103.10 446.65 L103.60 449.06 L104.10 451.55 L104.60 454.13 L105.10 456.80 L105.60 459.55 L106.10 462.40 L106.60 465.35 L107.10 468.39" stroke="#d21f2a" stroke-width="2.4" fill="none" stroke-linecap="round"/>
<text x="66.5" y="115.4" font-size="15.5" text-anchor="end" >55 mM</text>
<text x="66.5" y="134.2" font-size="15.5" text-anchor="end" >NaCl</text>
<text x="136.5" y="88.2" font-size="15.5" text-anchor="start" >Ag/AgCl</text>
<path d="M146.8 162.9V197.8H190.8" stroke="#111" stroke-width="2" fill="none"/>
<text transform="translate(141.3 197.9) rotate(-90)" font-size="15.5">1 nA</text>
<text x="148" y="211.8" font-size="15.5" text-anchor="start" >0.5 ms</text>
<text x="66.5" y="465.4" font-size="15.5" text-anchor="end" >55 mM</text>
<text x="66.5" y="484.2" font-size="15.5" text-anchor="end" >NaCl</text>
<text x="179" y="413.9" font-size="15.5" fill="#585858">Pt</text>
<path d="M146.8 435.8V471H190.8" stroke="#111" stroke-width="2" fill="none"/>
<text transform="translate(141.3 470.7) rotate(-90)" font-size="15.5">1 nA</text>
<text x="148" y="485.2" font-size="15.5" text-anchor="start" >0.5 ms</text>
<path d="M294 20.6H745.8V496H294Z" stroke="#000" stroke-width="2.2" fill="none"/>
<path d="M294 337.5H300.2" stroke="#000" stroke-width="1.8"/>
<path d="M294 179.0H300.2" stroke="#000" stroke-width="1.8"/>
<path d="M388.2 496V489.2" stroke="#000" stroke-width="1.8"/>
<path d="M482.4 496V489.2" stroke="#000" stroke-width="1.8"/>
<path d="M576.6 496V489.2" stroke="#000" stroke-width="1.8"/>
<path d="M670.8 496V489.2" stroke="#000" stroke-width="1.8"/>
<text x="290" y="500.2" font-size="15.5" text-anchor="end" >0</text>
<text x="290" y="341.7" font-size="15.5" text-anchor="end" >50</text>
<text x="290" y="183.2" font-size="15.5" text-anchor="end" >100</text>
<text x="290" y="24.7" font-size="15.5" text-anchor="end" >150</text>
<text x="294.0" y="512" font-size="15.5" text-anchor="middle" >0</text>
<text x="388.2" y="512" font-size="15.5" text-anchor="middle" >10</text>
<text x="482.4" y="512" font-size="15.5" text-anchor="middle" >20</text>
<text x="576.6" y="512" font-size="15.5" text-anchor="middle" >30</text>
<text x="670.8" y="512" font-size="15.5" text-anchor="middle" >40</text>
<text x="464" y="533" font-size="15.5"><tspan font-style="italic">V</tspan><tspan font-size="11.5" dy="3.5">b</tspan><tspan dy="-3.5"> </tspan><tspan font-style="italic">/</tspan><tspan> </tspan><tspan font-style="italic">I</tspan><tspan font-size="11.5" dy="3.5">open</tspan><tspan dy="-3.5"> (10</tspan><tspan font-size="11.5" dy="-5.5">6</tspan><tspan dy="5.5"> Ω)</tspan></text>
<text transform="translate(254 280.8) rotate(-90)" font-size="15.5"><tspan font-style="italic" font-size="17">τ</tspan><tspan font-size="11" dy="3">2</tspan><tspan dy="-3"> (μs)</tspan></text>
<path d="M322.5 196.5V334.5M318.2 196.5H326.8M318.2 334.5H326.8" stroke="#262626" stroke-width="1.2" fill="none"/>
<circle cx="322.0" cy="265.3" r="5.6" fill="#7cf52c"/>
<path d="M327.5 137.5V335.5M323.2 137.5H331.8M323.2 335.5H331.8" stroke="#262626" stroke-width="1.2" fill="none"/>
<circle cx="327.3" cy="236.1" r="5.6" fill="#72701d"/>
<path d="M315.5 374.5V435.5M311.2 374.5H319.8M311.2 435.5H319.8" stroke="#262626" stroke-width="1.2" fill="none"/>
<circle cx="315.4" cy="404.8" r="5.6" fill="#cc2027"/>
<path d="M319.5 292.5V380.5M315.2 292.5H323.8M315.2 380.5H323.8" stroke="#262626" stroke-width="1.2" fill="none"/>
<circle cx="319.5" cy="336.2" r="5.6" fill="#1f1ff0"/>
<path d="M331.5 282.5V378.5M327.2 282.5H335.8M327.2 378.5H335.8" stroke="#262626" stroke-width="1.2" fill="none"/>
<circle cx="331.3" cy="330.3" r="5.6" fill="#dd7225"/>
<path d="M335.5 218.5V364.5M331.2 218.5H339.8M331.2 364.5H339.8" stroke="#262626" stroke-width="1.2" fill="none"/>
<circle cx="335.2" cy="291.5" r="5.6" fill="#e020ea"/>
<path d="M342.5 371.5V381.5M338.2 371.5H346.8M338.2 381.5H346.8" stroke="#262626" stroke-width="1.2" fill="none"/>
<circle cx="342.5" cy="376.0" r="5.6" fill="#4a4a4a"/>
<path d="M338.6 371.5H346.4M338.6 381.5H346.4" stroke="#262626" stroke-width="1.2"/>
<path d="M478.5 129.5V373.5M474.2 129.5H482.8M474.2 373.5H482.8" stroke="#333" stroke-width="1.2" fill="none"/>
<path d="M426.5 251.5H530.5M426.5 247.6V255.4M530.5 247.6V255.4" stroke="#333" stroke-width="1.2" fill="none"/>
<path d="M478.80 245.46L484.40 254.67H473.20Z" stroke="#7a7a7a" stroke-width="1.4" fill="#fff" stroke-linejoin="miter"/>
<path d="M622.5 176.5V311.5M618.2 176.5H626.8M618.2 311.5H626.8" stroke="#333" stroke-width="1.2" fill="none"/>
<path d="M510.5 244.5H734.5M510.5 240.6V248.4M734.5 240.6V248.4" stroke="#333" stroke-width="1.2" fill="none"/>
<path d="M622.00 238.86L627.60 248.07H616.40Z" stroke="#d630e6" stroke-width="1.4" fill="#fff" stroke-linejoin="miter"/>
<path d="M553.5 56.5V288.5M549.2 56.5H557.8M549.2 288.5H557.8" stroke="#333" stroke-width="1.2" fill="none"/>
<path d="M442.5 172.5H664.5M442.5 168.6V176.4M664.5 168.6V176.4" stroke="#333" stroke-width="1.2" fill="none"/>
<path d="M553.00 166.76L558.60 175.97H547.40Z" stroke="#e07a30" stroke-width="1.4" fill="#fff" stroke-linejoin="miter"/>
<path d="M340.5 269.5V385.5M336.2 269.5H344.8M336.2 385.5H344.8" stroke="#333" stroke-width="1.2" fill="none"/>
<path d="M340.50 321.26L346.10 330.47H334.90Z" stroke="#7a7a2e" stroke-width="1.4" fill="#fff" stroke-linejoin="miter"/>
<path d="M399.5 263.5V409.5M395.2 263.5H403.8M395.2 409.5H403.8" stroke="#333" stroke-width="1.2" fill="none"/>
<path d="M387.5 336.5H412.5M387.5 332.6V340.4M412.5 332.6V340.4" stroke="#333" stroke-width="1.2" fill="none"/>
<path d="M399.70 330.56L405.30 339.77H394.10Z" stroke="#8ef24a" stroke-width="1.4" fill="#fff" stroke-linejoin="miter"/>
<path d="M438.5 243.5V402.5M434.2 243.5H442.8M434.2 402.5H442.8" stroke="#333" stroke-width="1.2" fill="none"/>
<path d="M373.5 323.5H503.5M373.5 319.6V327.4M503.5 319.6V327.4" stroke="#333" stroke-width="1.2" fill="none"/>
<path d="M438.80 317.46L444.40 326.67H433.20Z" stroke="#2a2af5" stroke-width="1.4" fill="#fff" stroke-linejoin="miter"/>
<path d="M336.5 328.5V391.5M332.2 328.5H340.8M332.2 391.5H340.8" stroke="#333" stroke-width="1.2" fill="none"/>
<path d="M336.80 354.26L342.40 363.47H331.20Z" stroke="#d42a2a" stroke-width="1.4" fill="#fff" stroke-linejoin="miter"/>
<text transform="translate(613 336) rotate(-45)" font-size="15.5">Pt</text>
<text transform="translate(636.5 336.5) rotate(-45)" font-size="15.5">Ag/AgCl</text>
<path d="M614.70 340.57L619.10 347.81H610.30Z" stroke="#d42a2a" stroke-width="1.2" fill="#fff" stroke-linejoin="miter"/>
<circle cx="635.5" cy="344.8" r="4.8" fill="#cc2027"/>
<text x="739" y="349.8" font-size="15.5" text-anchor="end" >137 mM NaCl</text>
<path d="M614.70 363.47L619.10 370.71H610.30Z" stroke="#2a2af5" stroke-width="1.2" fill="#fff" stroke-linejoin="miter"/>
<circle cx="635.5" cy="367.7" r="4.8" fill="#1f1ff0"/>
<text x="739" y="372.7" font-size="15.5" text-anchor="end" >123 mM NaCl</text>
<path d="M614.70 386.37L619.10 393.61H610.30Z" stroke="#8ef24a" stroke-width="1.2" fill="#fff" stroke-linejoin="miter"/>
<circle cx="635.5" cy="390.6" r="4.8" fill="#7cf52c"/>
<text x="739" y="395.6" font-size="15.5" text-anchor="end" >110 mM NaCl</text>
<path d="M614.70 409.27L619.10 416.51H610.30Z" stroke="#7a7a2e" stroke-width="1.2" fill="#fff" stroke-linejoin="miter"/>
<circle cx="635.5" cy="413.5" r="4.8" fill="#72701d"/>
<text x="739" y="418.5" font-size="15.5" text-anchor="end" >96 mM NaCl</text>
<path d="M614.70 432.17L619.10 439.41H610.30Z" stroke="#e07a30" stroke-width="1.2" fill="#fff" stroke-linejoin="miter"/>
<circle cx="635.5" cy="436.4" r="4.8" fill="#dd7225"/>
<text x="739" y="441.4" font-size="15.5" text-anchor="end" >82 mM NaCl</text>
<path d="M614.70 455.07L619.10 462.31H610.30Z" stroke="#d630e6" stroke-width="1.2" fill="#fff" stroke-linejoin="miter"/>
<circle cx="635.5" cy="459.3" r="4.8" fill="#e020ea"/>
<text x="739" y="464.3" font-size="15.5" text-anchor="end" >69 mM NaCl</text>
<path d="M614.70 477.97L619.10 485.21H610.30Z" stroke="#7a7a7a" stroke-width="1.2" fill="#fff" stroke-linejoin="miter"/>
<circle cx="635.5" cy="482.2" r="4.8" fill="#6b6b6b"/>
<text x="739" y="487.2" font-size="15.5" text-anchor="end" >55 mM NaCl</text>
</svg></body></html>
